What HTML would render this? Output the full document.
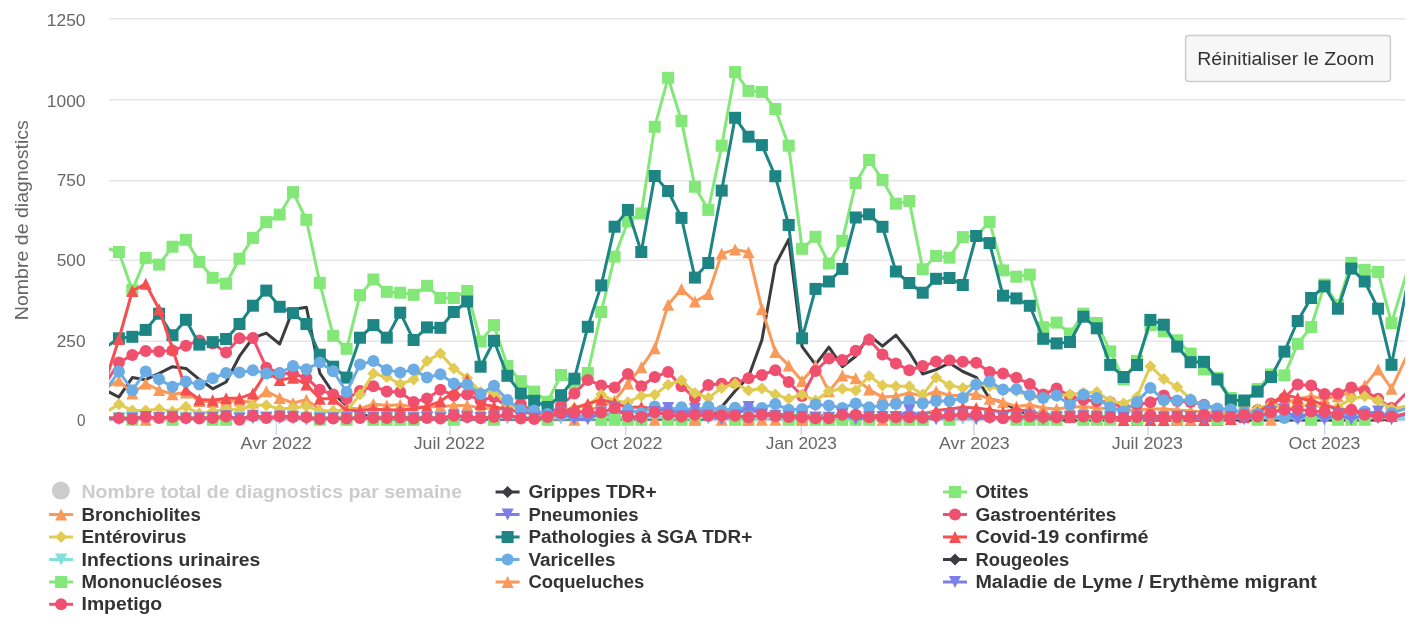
<!DOCTYPE html>
<html><head><meta charset="utf-8"><title>Chart</title><style>html,body{margin:0;padding:0;background:#fff}</style></head><body>
<svg width="1427" height="630" viewBox="0 0 1427 630" style="will-change:transform;display:block;font-family:'Liberation Sans',sans-serif">
<rect width="1427" height="630" fill="#fff"/>
<defs><clipPath id="pc"><rect x="109" y="0" width="1296" height="440"/></clipPath></defs>
<path d="M109 18.75H1405" stroke="#e6e6e6" stroke-width="1.5" fill="none"/>
<path d="M109 99.75H1405" stroke="#e6e6e6" stroke-width="1.5" fill="none"/>
<path d="M109 180.75H1405" stroke="#e6e6e6" stroke-width="1.5" fill="none"/>
<path d="M109 260.25H1405" stroke="#e6e6e6" stroke-width="1.5" fill="none"/>
<path d="M109 341.25H1405" stroke="#e6e6e6" stroke-width="1.5" fill="none"/>
<path d="M109 420.75H1405" stroke="#ccd6eb" stroke-width="1.5" fill="none"/>
<path d="M276.4 421V435" stroke="#ccd6eb" stroke-width="1.5" fill="none"/>
<path d="M450 421V435" stroke="#ccd6eb" stroke-width="1.5" fill="none"/>
<path d="M625.7 421V435" stroke="#ccd6eb" stroke-width="1.5" fill="none"/>
<path d="M801.3 421V435" stroke="#ccd6eb" stroke-width="1.5" fill="none"/>
<path d="M973.8 421V435" stroke="#ccd6eb" stroke-width="1.5" fill="none"/>
<path d="M1148 421V435" stroke="#ccd6eb" stroke-width="1.5" fill="none"/>
<path d="M1324.7 421V435" stroke="#ccd6eb" stroke-width="1.5" fill="none"/>
<g clip-path="url(#pc)">
<path d="M105.5 390.2L118.9 397.2L132.3 377.6L145.7 379.7L159.1 373.4L172.5 366.7L185.9 368.4L199.3 379.3L212.7 388.8L226.1 382.0L239.5 356.2L252.9 337.9L266.3 333.1L279.7 344.0L293.0 309.5L306.4 307.2L319.8 373.0L333.2 393.0L346.6 406.0L360.0 414.0L373.4 417.0L386.8 419.0L400.2 419.0L413.6 419.0L427.0 419.0L440.4 419.0L453.8 419.0L467.2 419.0L480.6 419.0L494.0 419.0L507.4 419.0L520.8 419.0L534.2 419.0L547.6 419.0L561.0 419.0L574.4 419.0L587.8 419.0L601.2 419.0L614.6 419.0L627.9 419.0L641.3 419.0L654.7 419.0L668.1 419.0L681.5 419.0L694.9 419.0L708.3 419.0L721.7 407.0L735.1 391.0L748.5 377.0L761.9 340.0L775.3 265.0L788.7 239.4L802.1 346.7L815.5 364.6L828.9 347.1L842.3 366.7L855.7 356.2L869.1 335.1L882.5 346.1L895.9 335.1L909.3 352.0L922.7 374.0L936.1 369.6L949.5 363.0L962.8 371.5L976.2 377.3L989.6 398.8L1003.0 402.2L1016.4 409.8L1029.8 415.0L1043.2 418.0L1056.6 420.0L1070.0 420.0L1083.4 420.0L1096.8 420.0L1110.2 420.0L1123.6 420.0L1137.0 420.0L1150.4 420.0L1163.8 420.0L1177.2 420.0L1190.6 420.0L1204.0 420.0L1217.4 420.0L1230.8 420.0L1244.2 420.0L1257.6 420.0L1271.0 420.0L1284.4 420.0L1297.7 420.0L1311.1 420.0L1324.5 420.0L1337.9 420.0L1351.3 420.0L1364.7 420.0L1378.1 420.0L1391.5 419.0L1404.9 414.0L1418.3 409.0" fill="none" stroke="#3b3b40" stroke-width="3" stroke-linejoin="round" stroke-linecap="round"/>
<path d="M105.5 247.7L118.9 252.0L132.3 290.2L145.7 257.9L159.1 264.6L172.5 246.7L185.9 239.8L199.3 261.9L212.7 277.8L226.1 283.7L239.5 258.7L252.9 237.9L266.3 222.1L279.7 214.6L293.0 192.1L306.4 219.8L319.8 282.9L333.2 335.8L346.6 348.8L360.0 295.1L373.4 279.5L386.8 291.9L400.2 292.7L413.6 294.8L427.0 285.8L440.4 298.0L453.8 298.0L467.2 291.0L480.6 341.5L494.0 325.1L507.4 366.0L520.8 381.2L534.2 391.7L547.6 401.7L561.0 375.0L574.4 383.5L587.8 373.0L601.2 312.0L614.6 256.6L627.9 221.5L641.3 213.5L654.7 126.8L668.1 77.8L681.5 120.9L694.9 186.8L708.3 209.9L721.7 145.7L735.1 72.0L748.5 90.9L761.9 91.9L775.3 109.0L788.7 145.7L802.1 248.8L815.5 236.8L828.9 263.5L842.3 240.8L855.7 183.0L869.1 160.0L882.5 179.9L895.9 203.7L909.3 201.0L922.7 269.3L936.1 256.0L949.5 257.7L962.8 237.1L976.2 236.0L989.6 222.0L1003.0 270.4L1016.4 276.7L1029.8 274.6L1043.2 327.2L1056.6 322.6L1070.0 333.5L1083.4 313.6L1096.8 323.0L1110.2 351.4L1123.6 379.5L1137.0 360.9L1150.4 325.1L1163.8 331.4L1177.2 340.3L1190.6 353.5L1204.0 369.5L1217.4 377.8L1230.8 398.0L1244.2 402.7L1257.6 389.0L1271.0 374.4L1284.4 375.3L1297.7 343.9L1311.1 327.1L1324.5 284.5L1337.9 305.0L1351.3 262.8L1364.7 269.8L1378.1 272.0L1391.5 323.1L1404.9 279.0L1418.3 234.9" fill="none" stroke="#83e878" stroke-width="3" stroke-linejoin="round" stroke-linecap="round"/><rect x="112.9" y="246.0" width="12" height="12" fill="#83e878"/><rect x="126.3" y="284.2" width="12" height="12" fill="#83e878"/><rect x="139.7" y="251.9" width="12" height="12" fill="#83e878"/><rect x="153.1" y="258.6" width="12" height="12" fill="#83e878"/><rect x="166.5" y="240.7" width="12" height="12" fill="#83e878"/><rect x="179.9" y="233.8" width="12" height="12" fill="#83e878"/><rect x="193.3" y="255.9" width="12" height="12" fill="#83e878"/><rect x="206.7" y="271.8" width="12" height="12" fill="#83e878"/><rect x="220.1" y="277.7" width="12" height="12" fill="#83e878"/><rect x="233.5" y="252.7" width="12" height="12" fill="#83e878"/><rect x="246.9" y="231.9" width="12" height="12" fill="#83e878"/><rect x="260.3" y="216.1" width="12" height="12" fill="#83e878"/><rect x="273.7" y="208.6" width="12" height="12" fill="#83e878"/><rect x="287.0" y="186.1" width="12" height="12" fill="#83e878"/><rect x="300.4" y="213.8" width="12" height="12" fill="#83e878"/><rect x="313.8" y="276.9" width="12" height="12" fill="#83e878"/><rect x="327.2" y="329.8" width="12" height="12" fill="#83e878"/><rect x="340.6" y="342.8" width="12" height="12" fill="#83e878"/><rect x="354.0" y="289.1" width="12" height="12" fill="#83e878"/><rect x="367.4" y="273.5" width="12" height="12" fill="#83e878"/><rect x="380.8" y="285.9" width="12" height="12" fill="#83e878"/><rect x="394.2" y="286.7" width="12" height="12" fill="#83e878"/><rect x="407.6" y="288.8" width="12" height="12" fill="#83e878"/><rect x="421.0" y="279.8" width="12" height="12" fill="#83e878"/><rect x="434.4" y="292.0" width="12" height="12" fill="#83e878"/><rect x="447.8" y="292.0" width="12" height="12" fill="#83e878"/><rect x="461.2" y="285.0" width="12" height="12" fill="#83e878"/><rect x="474.6" y="335.5" width="12" height="12" fill="#83e878"/><rect x="488.0" y="319.1" width="12" height="12" fill="#83e878"/><rect x="501.4" y="360.0" width="12" height="12" fill="#83e878"/><rect x="514.8" y="375.2" width="12" height="12" fill="#83e878"/><rect x="528.2" y="385.7" width="12" height="12" fill="#83e878"/><rect x="541.6" y="395.7" width="12" height="12" fill="#83e878"/><rect x="555.0" y="369.0" width="12" height="12" fill="#83e878"/><rect x="568.4" y="377.5" width="12" height="12" fill="#83e878"/><rect x="581.8" y="367.0" width="12" height="12" fill="#83e878"/><rect x="595.2" y="306.0" width="12" height="12" fill="#83e878"/><rect x="608.6" y="250.6" width="12" height="12" fill="#83e878"/><rect x="621.9" y="215.5" width="12" height="12" fill="#83e878"/><rect x="635.3" y="207.5" width="12" height="12" fill="#83e878"/><rect x="648.7" y="120.8" width="12" height="12" fill="#83e878"/><rect x="662.1" y="71.8" width="12" height="12" fill="#83e878"/><rect x="675.5" y="114.9" width="12" height="12" fill="#83e878"/><rect x="688.9" y="180.8" width="12" height="12" fill="#83e878"/><rect x="702.3" y="203.9" width="12" height="12" fill="#83e878"/><rect x="715.7" y="139.7" width="12" height="12" fill="#83e878"/><rect x="729.1" y="66.0" width="12" height="12" fill="#83e878"/><rect x="742.5" y="84.9" width="12" height="12" fill="#83e878"/><rect x="755.9" y="85.9" width="12" height="12" fill="#83e878"/><rect x="769.3" y="103.0" width="12" height="12" fill="#83e878"/><rect x="782.7" y="139.7" width="12" height="12" fill="#83e878"/><rect x="796.1" y="242.8" width="12" height="12" fill="#83e878"/><rect x="809.5" y="230.8" width="12" height="12" fill="#83e878"/><rect x="822.9" y="257.5" width="12" height="12" fill="#83e878"/><rect x="836.3" y="234.8" width="12" height="12" fill="#83e878"/><rect x="849.7" y="177.0" width="12" height="12" fill="#83e878"/><rect x="863.1" y="154.0" width="12" height="12" fill="#83e878"/><rect x="876.5" y="173.9" width="12" height="12" fill="#83e878"/><rect x="889.9" y="197.7" width="12" height="12" fill="#83e878"/><rect x="903.3" y="195.0" width="12" height="12" fill="#83e878"/><rect x="916.7" y="263.3" width="12" height="12" fill="#83e878"/><rect x="930.1" y="250.0" width="12" height="12" fill="#83e878"/><rect x="943.5" y="251.7" width="12" height="12" fill="#83e878"/><rect x="956.8" y="231.1" width="12" height="12" fill="#83e878"/><rect x="970.2" y="230.0" width="12" height="12" fill="#83e878"/><rect x="983.6" y="216.0" width="12" height="12" fill="#83e878"/><rect x="997.0" y="264.4" width="12" height="12" fill="#83e878"/><rect x="1010.4" y="270.7" width="12" height="12" fill="#83e878"/><rect x="1023.8" y="268.6" width="12" height="12" fill="#83e878"/><rect x="1037.2" y="321.2" width="12" height="12" fill="#83e878"/><rect x="1050.6" y="316.6" width="12" height="12" fill="#83e878"/><rect x="1064.0" y="327.5" width="12" height="12" fill="#83e878"/><rect x="1077.4" y="307.6" width="12" height="12" fill="#83e878"/><rect x="1090.8" y="317.0" width="12" height="12" fill="#83e878"/><rect x="1104.2" y="345.4" width="12" height="12" fill="#83e878"/><rect x="1117.6" y="373.5" width="12" height="12" fill="#83e878"/><rect x="1131.0" y="354.9" width="12" height="12" fill="#83e878"/><rect x="1144.4" y="319.1" width="12" height="12" fill="#83e878"/><rect x="1157.8" y="325.4" width="12" height="12" fill="#83e878"/><rect x="1171.2" y="334.3" width="12" height="12" fill="#83e878"/><rect x="1184.6" y="347.5" width="12" height="12" fill="#83e878"/><rect x="1198.0" y="363.5" width="12" height="12" fill="#83e878"/><rect x="1211.4" y="371.8" width="12" height="12" fill="#83e878"/><rect x="1224.8" y="392.0" width="12" height="12" fill="#83e878"/><rect x="1238.2" y="396.7" width="12" height="12" fill="#83e878"/><rect x="1251.6" y="383.0" width="12" height="12" fill="#83e878"/><rect x="1265.0" y="368.4" width="12" height="12" fill="#83e878"/><rect x="1278.4" y="369.3" width="12" height="12" fill="#83e878"/><rect x="1291.7" y="337.9" width="12" height="12" fill="#83e878"/><rect x="1305.1" y="321.1" width="12" height="12" fill="#83e878"/><rect x="1318.5" y="278.5" width="12" height="12" fill="#83e878"/><rect x="1331.9" y="299.0" width="12" height="12" fill="#83e878"/><rect x="1345.3" y="256.8" width="12" height="12" fill="#83e878"/><rect x="1358.7" y="263.8" width="12" height="12" fill="#83e878"/><rect x="1372.1" y="266.0" width="12" height="12" fill="#83e878"/><rect x="1385.5" y="317.1" width="12" height="12" fill="#83e878"/>
<path d="M105.5 388.0L118.9 380.5L132.3 393.4L145.7 383.6L159.1 390.0L172.5 394.3L185.9 392.5L199.3 401.0L212.7 402.0L226.1 401.5L239.5 400.5L252.9 402.5L266.3 391.2L279.7 398.0L293.0 403.0L306.4 399.7L319.8 409.5L333.2 413.0L346.6 408.0L360.0 409.0L373.4 403.9L386.8 405.6L400.2 404.7L413.6 407.0L427.0 407.0L440.4 406.4L453.8 405.6L467.2 405.6L480.6 408.0L494.0 408.0L507.4 410.0L520.8 412.0L534.2 414.0L547.6 415.0L561.0 414.0L574.4 413.0L587.8 410.0L601.2 407.0L614.6 400.5L627.9 383.6L641.3 367.3L654.7 348.2L668.1 304.7L681.5 289.1L694.9 301.5L708.3 294.1L721.7 253.6L735.1 249.4L748.5 252.2L761.9 308.9L775.3 352.0L788.7 365.4L802.1 381.0L815.5 365.4L828.9 391.2L842.3 375.5L855.7 378.3L869.1 389.6L882.5 397.1L895.9 396.3L909.3 392.9L922.7 396.3L936.1 391.2L949.5 395.5L962.8 395.5L976.2 394.1L989.6 398.8L1003.0 402.2L1016.4 406.4L1029.8 404.7L1043.2 408.0L1056.6 409.0L1070.0 407.2L1083.4 406.4L1096.8 408.0L1110.2 409.0L1123.6 410.0L1137.0 410.0L1150.4 409.0L1163.8 409.0L1177.2 410.0L1190.6 411.0L1204.0 412.0L1217.4 413.0L1230.8 414.0L1244.2 414.0L1257.6 412.0L1271.0 408.0L1284.4 403.0L1297.7 399.0L1311.1 396.3L1324.5 398.8L1337.9 396.3L1351.3 392.0L1364.7 385.4L1378.1 369.4L1391.5 388.7L1404.9 360.0L1418.3 331.3" fill="none" stroke="#f9995a" stroke-width="3" stroke-linejoin="round" stroke-linecap="round"/><path d="M118.9 374.5L124.9 386.5L112.9 386.5Z" fill="#f9995a"/><path d="M132.3 387.4L138.3 399.4L126.3 399.4Z" fill="#f9995a"/><path d="M145.7 377.6L151.7 389.6L139.7 389.6Z" fill="#f9995a"/><path d="M159.1 384.0L165.1 396.0L153.1 396.0Z" fill="#f9995a"/><path d="M172.5 388.3L178.5 400.3L166.5 400.3Z" fill="#f9995a"/><path d="M185.9 386.5L191.9 398.5L179.9 398.5Z" fill="#f9995a"/><path d="M199.3 395.0L205.3 407.0L193.3 407.0Z" fill="#f9995a"/><path d="M212.7 396.0L218.7 408.0L206.7 408.0Z" fill="#f9995a"/><path d="M226.1 395.5L232.1 407.5L220.1 407.5Z" fill="#f9995a"/><path d="M239.5 394.5L245.5 406.5L233.5 406.5Z" fill="#f9995a"/><path d="M252.9 396.5L258.9 408.5L246.9 408.5Z" fill="#f9995a"/><path d="M266.3 385.2L272.3 397.2L260.3 397.2Z" fill="#f9995a"/><path d="M279.7 392.0L285.7 404.0L273.7 404.0Z" fill="#f9995a"/><path d="M293.0 397.0L299.0 409.0L287.0 409.0Z" fill="#f9995a"/><path d="M306.4 393.7L312.4 405.7L300.4 405.7Z" fill="#f9995a"/><path d="M319.8 403.5L325.8 415.5L313.8 415.5Z" fill="#f9995a"/><path d="M333.2 407.0L339.2 419.0L327.2 419.0Z" fill="#f9995a"/><path d="M346.6 402.0L352.6 414.0L340.6 414.0Z" fill="#f9995a"/><path d="M360.0 403.0L366.0 415.0L354.0 415.0Z" fill="#f9995a"/><path d="M373.4 397.9L379.4 409.9L367.4 409.9Z" fill="#f9995a"/><path d="M386.8 399.6L392.8 411.6L380.8 411.6Z" fill="#f9995a"/><path d="M400.2 398.7L406.2 410.7L394.2 410.7Z" fill="#f9995a"/><path d="M413.6 401.0L419.6 413.0L407.6 413.0Z" fill="#f9995a"/><path d="M427.0 401.0L433.0 413.0L421.0 413.0Z" fill="#f9995a"/><path d="M440.4 400.4L446.4 412.4L434.4 412.4Z" fill="#f9995a"/><path d="M453.8 399.6L459.8 411.6L447.8 411.6Z" fill="#f9995a"/><path d="M467.2 399.6L473.2 411.6L461.2 411.6Z" fill="#f9995a"/><path d="M480.6 402.0L486.6 414.0L474.6 414.0Z" fill="#f9995a"/><path d="M494.0 402.0L500.0 414.0L488.0 414.0Z" fill="#f9995a"/><path d="M507.4 404.0L513.4 416.0L501.4 416.0Z" fill="#f9995a"/><path d="M520.8 406.0L526.8 418.0L514.8 418.0Z" fill="#f9995a"/><path d="M534.2 408.0L540.2 420.0L528.2 420.0Z" fill="#f9995a"/><path d="M547.6 409.0L553.6 421.0L541.6 421.0Z" fill="#f9995a"/><path d="M561.0 408.0L567.0 420.0L555.0 420.0Z" fill="#f9995a"/><path d="M574.4 407.0L580.4 419.0L568.4 419.0Z" fill="#f9995a"/><path d="M587.8 404.0L593.8 416.0L581.8 416.0Z" fill="#f9995a"/><path d="M601.2 401.0L607.2 413.0L595.2 413.0Z" fill="#f9995a"/><path d="M614.6 394.5L620.6 406.5L608.6 406.5Z" fill="#f9995a"/><path d="M627.9 377.6L633.9 389.6L621.9 389.6Z" fill="#f9995a"/><path d="M641.3 361.3L647.3 373.3L635.3 373.3Z" fill="#f9995a"/><path d="M654.7 342.2L660.7 354.2L648.7 354.2Z" fill="#f9995a"/><path d="M668.1 298.7L674.1 310.7L662.1 310.7Z" fill="#f9995a"/><path d="M681.5 283.1L687.5 295.1L675.5 295.1Z" fill="#f9995a"/><path d="M694.9 295.5L700.9 307.5L688.9 307.5Z" fill="#f9995a"/><path d="M708.3 288.1L714.3 300.1L702.3 300.1Z" fill="#f9995a"/><path d="M721.7 247.6L727.7 259.6L715.7 259.6Z" fill="#f9995a"/><path d="M735.1 243.4L741.1 255.4L729.1 255.4Z" fill="#f9995a"/><path d="M748.5 246.2L754.5 258.2L742.5 258.2Z" fill="#f9995a"/><path d="M761.9 302.9L767.9 314.9L755.9 314.9Z" fill="#f9995a"/><path d="M775.3 346.0L781.3 358.0L769.3 358.0Z" fill="#f9995a"/><path d="M788.7 359.4L794.7 371.4L782.7 371.4Z" fill="#f9995a"/><path d="M802.1 375.0L808.1 387.0L796.1 387.0Z" fill="#f9995a"/><path d="M815.5 359.4L821.5 371.4L809.5 371.4Z" fill="#f9995a"/><path d="M828.9 385.2L834.9 397.2L822.9 397.2Z" fill="#f9995a"/><path d="M842.3 369.5L848.3 381.5L836.3 381.5Z" fill="#f9995a"/><path d="M855.7 372.3L861.7 384.3L849.7 384.3Z" fill="#f9995a"/><path d="M869.1 383.6L875.1 395.6L863.1 395.6Z" fill="#f9995a"/><path d="M882.5 391.1L888.5 403.1L876.5 403.1Z" fill="#f9995a"/><path d="M895.9 390.3L901.9 402.3L889.9 402.3Z" fill="#f9995a"/><path d="M909.3 386.9L915.3 398.9L903.3 398.9Z" fill="#f9995a"/><path d="M922.7 390.3L928.7 402.3L916.7 402.3Z" fill="#f9995a"/><path d="M936.1 385.2L942.1 397.2L930.1 397.2Z" fill="#f9995a"/><path d="M949.5 389.5L955.5 401.5L943.5 401.5Z" fill="#f9995a"/><path d="M962.8 389.5L968.8 401.5L956.8 401.5Z" fill="#f9995a"/><path d="M976.2 388.1L982.2 400.1L970.2 400.1Z" fill="#f9995a"/><path d="M989.6 392.8L995.6 404.8L983.6 404.8Z" fill="#f9995a"/><path d="M1003.0 396.2L1009.0 408.2L997.0 408.2Z" fill="#f9995a"/><path d="M1016.4 400.4L1022.4 412.4L1010.4 412.4Z" fill="#f9995a"/><path d="M1029.8 398.7L1035.8 410.7L1023.8 410.7Z" fill="#f9995a"/><path d="M1043.2 402.0L1049.2 414.0L1037.2 414.0Z" fill="#f9995a"/><path d="M1056.6 403.0L1062.6 415.0L1050.6 415.0Z" fill="#f9995a"/><path d="M1070.0 401.2L1076.0 413.2L1064.0 413.2Z" fill="#f9995a"/><path d="M1083.4 400.4L1089.4 412.4L1077.4 412.4Z" fill="#f9995a"/><path d="M1096.8 402.0L1102.8 414.0L1090.8 414.0Z" fill="#f9995a"/><path d="M1110.2 403.0L1116.2 415.0L1104.2 415.0Z" fill="#f9995a"/><path d="M1123.6 404.0L1129.6 416.0L1117.6 416.0Z" fill="#f9995a"/><path d="M1137.0 404.0L1143.0 416.0L1131.0 416.0Z" fill="#f9995a"/><path d="M1150.4 403.0L1156.4 415.0L1144.4 415.0Z" fill="#f9995a"/><path d="M1163.8 403.0L1169.8 415.0L1157.8 415.0Z" fill="#f9995a"/><path d="M1177.2 404.0L1183.2 416.0L1171.2 416.0Z" fill="#f9995a"/><path d="M1190.6 405.0L1196.6 417.0L1184.6 417.0Z" fill="#f9995a"/><path d="M1204.0 406.0L1210.0 418.0L1198.0 418.0Z" fill="#f9995a"/><path d="M1217.4 407.0L1223.4 419.0L1211.4 419.0Z" fill="#f9995a"/><path d="M1230.8 408.0L1236.8 420.0L1224.8 420.0Z" fill="#f9995a"/><path d="M1244.2 408.0L1250.2 420.0L1238.2 420.0Z" fill="#f9995a"/><path d="M1257.6 406.0L1263.6 418.0L1251.6 418.0Z" fill="#f9995a"/><path d="M1271.0 402.0L1277.0 414.0L1265.0 414.0Z" fill="#f9995a"/><path d="M1284.4 397.0L1290.4 409.0L1278.4 409.0Z" fill="#f9995a"/><path d="M1297.7 393.0L1303.7 405.0L1291.7 405.0Z" fill="#f9995a"/><path d="M1311.1 390.3L1317.1 402.3L1305.1 402.3Z" fill="#f9995a"/><path d="M1324.5 392.8L1330.5 404.8L1318.5 404.8Z" fill="#f9995a"/><path d="M1337.9 390.3L1343.9 402.3L1331.9 402.3Z" fill="#f9995a"/><path d="M1351.3 386.0L1357.3 398.0L1345.3 398.0Z" fill="#f9995a"/><path d="M1364.7 379.4L1370.7 391.4L1358.7 391.4Z" fill="#f9995a"/><path d="M1378.1 363.4L1384.1 375.4L1372.1 375.4Z" fill="#f9995a"/><path d="M1391.5 382.7L1397.5 394.7L1385.5 394.7Z" fill="#f9995a"/>
<path d="M105.5 418.3L118.9 418.3L132.3 418.3L145.7 418.3L159.1 418.3L172.5 418.3L185.9 418.3L199.3 418.3L212.7 418.3L226.1 418.3L239.5 418.3L252.9 418.3L266.3 418.3L279.7 418.3L293.0 418.3L306.4 418.3L319.8 418.3L333.2 418.3L346.6 418.3L360.0 418.3L373.4 418.3L386.8 418.3L400.2 418.3L413.6 418.3L427.0 418.3L440.4 418.3L453.8 418.3L467.2 418.3L480.6 418.3L494.0 418.3L507.4 418.3L520.8 418.3L534.2 418.3L547.6 418.3L561.0 418.3L574.4 418.3L587.8 418.3L601.2 418.3L614.6 418.3L627.9 418.3L641.3 418.3L654.7 418.3L668.1 418.3L681.5 418.3L694.9 418.3L708.3 418.3L721.7 418.3L735.1 418.3L748.5 418.3L761.9 418.3L775.3 418.3L788.7 418.3L802.1 418.3L815.5 418.3L828.9 418.3L842.3 418.3L855.7 418.3L869.1 418.3L882.5 418.3L895.9 418.3L909.3 418.3L922.7 418.3L936.1 418.3L949.5 418.3L962.8 418.3L976.2 418.3L989.6 418.3L1003.0 418.3L1016.4 418.3L1029.8 418.3L1043.2 418.3L1056.6 418.3L1070.0 418.3L1083.4 418.3L1096.8 418.3L1110.2 418.3L1123.6 418.3L1137.0 418.3L1150.4 418.3L1163.8 418.3L1177.2 418.3L1190.6 418.3L1204.0 418.3L1217.4 418.3L1230.8 418.3L1244.2 418.3L1257.6 418.3L1271.0 418.3L1284.4 418.3L1297.7 418.3L1311.1 418.3L1324.5 418.3L1337.9 418.3L1351.3 418.3L1364.7 418.3L1378.1 418.3L1391.5 418.3L1404.9 418.3L1418.3 418.3" fill="none" stroke="#7b7fe8" stroke-width="3" stroke-linejoin="round" stroke-linecap="round"/><path d="M112.9 412.3L124.9 412.3L118.9 424.3Z" fill="#7b7fe8"/><path d="M126.3 412.3L138.3 412.3L132.3 424.3Z" fill="#7b7fe8"/><path d="M139.7 412.3L151.7 412.3L145.7 424.3Z" fill="#7b7fe8"/><path d="M153.1 412.3L165.1 412.3L159.1 424.3Z" fill="#7b7fe8"/><path d="M166.5 412.3L178.5 412.3L172.5 424.3Z" fill="#7b7fe8"/><path d="M179.9 412.3L191.9 412.3L185.9 424.3Z" fill="#7b7fe8"/><path d="M193.3 412.3L205.3 412.3L199.3 424.3Z" fill="#7b7fe8"/><path d="M206.7 412.3L218.7 412.3L212.7 424.3Z" fill="#7b7fe8"/><path d="M220.1 412.3L232.1 412.3L226.1 424.3Z" fill="#7b7fe8"/><path d="M233.5 412.3L245.5 412.3L239.5 424.3Z" fill="#7b7fe8"/><path d="M246.9 412.3L258.9 412.3L252.9 424.3Z" fill="#7b7fe8"/><path d="M260.3 412.3L272.3 412.3L266.3 424.3Z" fill="#7b7fe8"/><path d="M273.7 412.3L285.7 412.3L279.7 424.3Z" fill="#7b7fe8"/><path d="M287.0 412.3L299.0 412.3L293.0 424.3Z" fill="#7b7fe8"/><path d="M300.4 412.3L312.4 412.3L306.4 424.3Z" fill="#7b7fe8"/><path d="M313.8 412.3L325.8 412.3L319.8 424.3Z" fill="#7b7fe8"/><path d="M327.2 412.3L339.2 412.3L333.2 424.3Z" fill="#7b7fe8"/><path d="M340.6 412.3L352.6 412.3L346.6 424.3Z" fill="#7b7fe8"/><path d="M354.0 412.3L366.0 412.3L360.0 424.3Z" fill="#7b7fe8"/><path d="M367.4 412.3L379.4 412.3L373.4 424.3Z" fill="#7b7fe8"/><path d="M380.8 412.3L392.8 412.3L386.8 424.3Z" fill="#7b7fe8"/><path d="M394.2 412.3L406.2 412.3L400.2 424.3Z" fill="#7b7fe8"/><path d="M407.6 412.3L419.6 412.3L413.6 424.3Z" fill="#7b7fe8"/><path d="M421.0 412.3L433.0 412.3L427.0 424.3Z" fill="#7b7fe8"/><path d="M434.4 412.3L446.4 412.3L440.4 424.3Z" fill="#7b7fe8"/><path d="M447.8 412.3L459.8 412.3L453.8 424.3Z" fill="#7b7fe8"/><path d="M461.2 412.3L473.2 412.3L467.2 424.3Z" fill="#7b7fe8"/><path d="M474.6 412.3L486.6 412.3L480.6 424.3Z" fill="#7b7fe8"/><path d="M488.0 412.3L500.0 412.3L494.0 424.3Z" fill="#7b7fe8"/><path d="M501.4 412.3L513.4 412.3L507.4 424.3Z" fill="#7b7fe8"/><path d="M514.8 412.3L526.8 412.3L520.8 424.3Z" fill="#7b7fe8"/><path d="M528.2 412.3L540.2 412.3L534.2 424.3Z" fill="#7b7fe8"/><path d="M541.6 412.3L553.6 412.3L547.6 424.3Z" fill="#7b7fe8"/><path d="M555.0 412.3L567.0 412.3L561.0 424.3Z" fill="#7b7fe8"/><path d="M568.4 412.3L580.4 412.3L574.4 424.3Z" fill="#7b7fe8"/><path d="M581.8 412.3L593.8 412.3L587.8 424.3Z" fill="#7b7fe8"/><path d="M595.2 412.3L607.2 412.3L601.2 424.3Z" fill="#7b7fe8"/><path d="M608.6 412.3L620.6 412.3L614.6 424.3Z" fill="#7b7fe8"/><path d="M621.9 412.3L633.9 412.3L627.9 424.3Z" fill="#7b7fe8"/><path d="M635.3 412.3L647.3 412.3L641.3 424.3Z" fill="#7b7fe8"/><path d="M648.7 412.3L660.7 412.3L654.7 424.3Z" fill="#7b7fe8"/><path d="M662.1 412.3L674.1 412.3L668.1 424.3Z" fill="#7b7fe8"/><path d="M675.5 412.3L687.5 412.3L681.5 424.3Z" fill="#7b7fe8"/><path d="M688.9 412.3L700.9 412.3L694.9 424.3Z" fill="#7b7fe8"/><path d="M702.3 412.3L714.3 412.3L708.3 424.3Z" fill="#7b7fe8"/><path d="M715.7 412.3L727.7 412.3L721.7 424.3Z" fill="#7b7fe8"/><path d="M729.1 412.3L741.1 412.3L735.1 424.3Z" fill="#7b7fe8"/><path d="M742.5 412.3L754.5 412.3L748.5 424.3Z" fill="#7b7fe8"/><path d="M755.9 412.3L767.9 412.3L761.9 424.3Z" fill="#7b7fe8"/><path d="M769.3 412.3L781.3 412.3L775.3 424.3Z" fill="#7b7fe8"/><path d="M782.7 412.3L794.7 412.3L788.7 424.3Z" fill="#7b7fe8"/><path d="M796.1 412.3L808.1 412.3L802.1 424.3Z" fill="#7b7fe8"/><path d="M809.5 412.3L821.5 412.3L815.5 424.3Z" fill="#7b7fe8"/><path d="M822.9 412.3L834.9 412.3L828.9 424.3Z" fill="#7b7fe8"/><path d="M836.3 412.3L848.3 412.3L842.3 424.3Z" fill="#7b7fe8"/><path d="M849.7 412.3L861.7 412.3L855.7 424.3Z" fill="#7b7fe8"/><path d="M863.1 412.3L875.1 412.3L869.1 424.3Z" fill="#7b7fe8"/><path d="M876.5 412.3L888.5 412.3L882.5 424.3Z" fill="#7b7fe8"/><path d="M889.9 412.3L901.9 412.3L895.9 424.3Z" fill="#7b7fe8"/><path d="M903.3 412.3L915.3 412.3L909.3 424.3Z" fill="#7b7fe8"/><path d="M916.7 412.3L928.7 412.3L922.7 424.3Z" fill="#7b7fe8"/><path d="M930.1 412.3L942.1 412.3L936.1 424.3Z" fill="#7b7fe8"/><path d="M943.5 412.3L955.5 412.3L949.5 424.3Z" fill="#7b7fe8"/><path d="M956.8 412.3L968.8 412.3L962.8 424.3Z" fill="#7b7fe8"/><path d="M970.2 412.3L982.2 412.3L976.2 424.3Z" fill="#7b7fe8"/><path d="M983.6 412.3L995.6 412.3L989.6 424.3Z" fill="#7b7fe8"/><path d="M997.0 412.3L1009.0 412.3L1003.0 424.3Z" fill="#7b7fe8"/><path d="M1010.4 412.3L1022.4 412.3L1016.4 424.3Z" fill="#7b7fe8"/><path d="M1023.8 412.3L1035.8 412.3L1029.8 424.3Z" fill="#7b7fe8"/><path d="M1037.2 412.3L1049.2 412.3L1043.2 424.3Z" fill="#7b7fe8"/><path d="M1050.6 412.3L1062.6 412.3L1056.6 424.3Z" fill="#7b7fe8"/><path d="M1064.0 412.3L1076.0 412.3L1070.0 424.3Z" fill="#7b7fe8"/><path d="M1077.4 412.3L1089.4 412.3L1083.4 424.3Z" fill="#7b7fe8"/><path d="M1090.8 412.3L1102.8 412.3L1096.8 424.3Z" fill="#7b7fe8"/><path d="M1104.2 412.3L1116.2 412.3L1110.2 424.3Z" fill="#7b7fe8"/><path d="M1117.6 412.3L1129.6 412.3L1123.6 424.3Z" fill="#7b7fe8"/><path d="M1131.0 412.3L1143.0 412.3L1137.0 424.3Z" fill="#7b7fe8"/><path d="M1144.4 412.3L1156.4 412.3L1150.4 424.3Z" fill="#7b7fe8"/><path d="M1157.8 412.3L1169.8 412.3L1163.8 424.3Z" fill="#7b7fe8"/><path d="M1171.2 412.3L1183.2 412.3L1177.2 424.3Z" fill="#7b7fe8"/><path d="M1184.6 412.3L1196.6 412.3L1190.6 424.3Z" fill="#7b7fe8"/><path d="M1198.0 412.3L1210.0 412.3L1204.0 424.3Z" fill="#7b7fe8"/><path d="M1211.4 412.3L1223.4 412.3L1217.4 424.3Z" fill="#7b7fe8"/><path d="M1224.8 412.3L1236.8 412.3L1230.8 424.3Z" fill="#7b7fe8"/><path d="M1238.2 412.3L1250.2 412.3L1244.2 424.3Z" fill="#7b7fe8"/><path d="M1251.6 412.3L1263.6 412.3L1257.6 424.3Z" fill="#7b7fe8"/><path d="M1265.0 412.3L1277.0 412.3L1271.0 424.3Z" fill="#7b7fe8"/><path d="M1278.4 412.3L1290.4 412.3L1284.4 424.3Z" fill="#7b7fe8"/><path d="M1291.7 412.3L1303.7 412.3L1297.7 424.3Z" fill="#7b7fe8"/><path d="M1305.1 412.3L1317.1 412.3L1311.1 424.3Z" fill="#7b7fe8"/><path d="M1318.5 412.3L1330.5 412.3L1324.5 424.3Z" fill="#7b7fe8"/><path d="M1331.9 412.3L1343.9 412.3L1337.9 424.3Z" fill="#7b7fe8"/><path d="M1345.3 412.3L1357.3 412.3L1351.3 424.3Z" fill="#7b7fe8"/><path d="M1358.7 412.3L1370.7 412.3L1364.7 424.3Z" fill="#7b7fe8"/><path d="M1372.1 412.3L1384.1 412.3L1378.1 424.3Z" fill="#7b7fe8"/><path d="M1385.5 412.3L1397.5 412.3L1391.5 424.3Z" fill="#7b7fe8"/>
<path d="M105.5 383.5L118.9 362.5L132.3 355.1L145.7 350.9L159.1 351.6L172.5 350.5L185.9 345.7L199.3 340.4L212.7 343.6L226.1 352.6L239.5 338.3L252.9 337.9L266.3 367.7L279.7 373.2L293.0 373.5L306.4 378.0L319.8 389.8L333.2 394.6L346.6 398.8L360.0 391.0L373.4 386.2L386.8 391.5L400.2 392.0L413.6 402.0L427.0 398.5L440.4 389.7L453.8 395.5L467.2 394.6L480.6 400.5L494.0 397.0L507.4 407.0L520.8 404.0L534.2 412.0L547.6 415.6L561.0 405.5L574.4 393.4L587.8 380.0L601.2 385.4L614.6 387.4L627.9 373.9L641.3 386.2L654.7 377.0L668.1 371.9L681.5 386.2L694.9 398.0L708.3 385.0L721.7 383.7L735.1 382.8L748.5 378.3L761.9 375.0L775.3 370.2L788.7 382.0L802.1 396.0L815.5 371.0L828.9 358.4L842.3 360.0L855.7 350.8L869.1 339.8L882.5 354.4L895.9 363.5L909.3 370.2L922.7 366.0L936.1 361.6L949.5 360.2L962.8 361.8L976.2 362.8L989.6 371.9L1003.0 373.6L1016.4 377.8L1029.8 384.1L1043.2 394.6L1056.6 388.4L1070.0 396.3L1083.4 399.7L1096.8 401.3L1110.2 402.2L1123.6 408.0L1137.0 404.7L1150.4 402.2L1163.8 395.5L1177.2 401.0L1190.6 402.0L1204.0 404.7L1217.4 409.0L1230.8 411.0L1244.2 412.0L1257.6 410.0L1271.0 403.5L1284.4 398.0L1297.7 384.5L1311.1 385.4L1324.5 394.1L1337.9 393.8L1351.3 387.4L1364.7 391.2L1378.1 398.8L1391.5 408.0L1404.9 394.6L1418.3 381.2" fill="none" stroke="#f0506f" stroke-width="3" stroke-linejoin="round" stroke-linecap="round"/><circle cx="118.9" cy="362.5" r="6" fill="#f0506f"/><circle cx="132.3" cy="355.1" r="6" fill="#f0506f"/><circle cx="145.7" cy="350.9" r="6" fill="#f0506f"/><circle cx="159.1" cy="351.6" r="6" fill="#f0506f"/><circle cx="172.5" cy="350.5" r="6" fill="#f0506f"/><circle cx="185.9" cy="345.7" r="6" fill="#f0506f"/><circle cx="199.3" cy="340.4" r="6" fill="#f0506f"/><circle cx="212.7" cy="343.6" r="6" fill="#f0506f"/><circle cx="226.1" cy="352.6" r="6" fill="#f0506f"/><circle cx="239.5" cy="338.3" r="6" fill="#f0506f"/><circle cx="252.9" cy="337.9" r="6" fill="#f0506f"/><circle cx="266.3" cy="367.7" r="6" fill="#f0506f"/><circle cx="279.7" cy="373.2" r="6" fill="#f0506f"/><circle cx="293.0" cy="373.5" r="6" fill="#f0506f"/><circle cx="306.4" cy="378.0" r="6" fill="#f0506f"/><circle cx="319.8" cy="389.8" r="6" fill="#f0506f"/><circle cx="333.2" cy="394.6" r="6" fill="#f0506f"/><circle cx="346.6" cy="398.8" r="6" fill="#f0506f"/><circle cx="360.0" cy="391.0" r="6" fill="#f0506f"/><circle cx="373.4" cy="386.2" r="6" fill="#f0506f"/><circle cx="386.8" cy="391.5" r="6" fill="#f0506f"/><circle cx="400.2" cy="392.0" r="6" fill="#f0506f"/><circle cx="413.6" cy="402.0" r="6" fill="#f0506f"/><circle cx="427.0" cy="398.5" r="6" fill="#f0506f"/><circle cx="440.4" cy="389.7" r="6" fill="#f0506f"/><circle cx="453.8" cy="395.5" r="6" fill="#f0506f"/><circle cx="467.2" cy="394.6" r="6" fill="#f0506f"/><circle cx="480.6" cy="400.5" r="6" fill="#f0506f"/><circle cx="494.0" cy="397.0" r="6" fill="#f0506f"/><circle cx="507.4" cy="407.0" r="6" fill="#f0506f"/><circle cx="520.8" cy="404.0" r="6" fill="#f0506f"/><circle cx="534.2" cy="412.0" r="6" fill="#f0506f"/><circle cx="547.6" cy="415.6" r="6" fill="#f0506f"/><circle cx="561.0" cy="405.5" r="6" fill="#f0506f"/><circle cx="574.4" cy="393.4" r="6" fill="#f0506f"/><circle cx="587.8" cy="380.0" r="6" fill="#f0506f"/><circle cx="601.2" cy="385.4" r="6" fill="#f0506f"/><circle cx="614.6" cy="387.4" r="6" fill="#f0506f"/><circle cx="627.9" cy="373.9" r="6" fill="#f0506f"/><circle cx="641.3" cy="386.2" r="6" fill="#f0506f"/><circle cx="654.7" cy="377.0" r="6" fill="#f0506f"/><circle cx="668.1" cy="371.9" r="6" fill="#f0506f"/><circle cx="681.5" cy="386.2" r="6" fill="#f0506f"/><circle cx="694.9" cy="398.0" r="6" fill="#f0506f"/><circle cx="708.3" cy="385.0" r="6" fill="#f0506f"/><circle cx="721.7" cy="383.7" r="6" fill="#f0506f"/><circle cx="735.1" cy="382.8" r="6" fill="#f0506f"/><circle cx="748.5" cy="378.3" r="6" fill="#f0506f"/><circle cx="761.9" cy="375.0" r="6" fill="#f0506f"/><circle cx="775.3" cy="370.2" r="6" fill="#f0506f"/><circle cx="788.7" cy="382.0" r="6" fill="#f0506f"/><circle cx="802.1" cy="396.0" r="6" fill="#f0506f"/><circle cx="815.5" cy="371.0" r="6" fill="#f0506f"/><circle cx="828.9" cy="358.4" r="6" fill="#f0506f"/><circle cx="842.3" cy="360.0" r="6" fill="#f0506f"/><circle cx="855.7" cy="350.8" r="6" fill="#f0506f"/><circle cx="869.1" cy="339.8" r="6" fill="#f0506f"/><circle cx="882.5" cy="354.4" r="6" fill="#f0506f"/><circle cx="895.9" cy="363.5" r="6" fill="#f0506f"/><circle cx="909.3" cy="370.2" r="6" fill="#f0506f"/><circle cx="922.7" cy="366.0" r="6" fill="#f0506f"/><circle cx="936.1" cy="361.6" r="6" fill="#f0506f"/><circle cx="949.5" cy="360.2" r="6" fill="#f0506f"/><circle cx="962.8" cy="361.8" r="6" fill="#f0506f"/><circle cx="976.2" cy="362.8" r="6" fill="#f0506f"/><circle cx="989.6" cy="371.9" r="6" fill="#f0506f"/><circle cx="1003.0" cy="373.6" r="6" fill="#f0506f"/><circle cx="1016.4" cy="377.8" r="6" fill="#f0506f"/><circle cx="1029.8" cy="384.1" r="6" fill="#f0506f"/><circle cx="1043.2" cy="394.6" r="6" fill="#f0506f"/><circle cx="1056.6" cy="388.4" r="6" fill="#f0506f"/><circle cx="1070.0" cy="396.3" r="6" fill="#f0506f"/><circle cx="1083.4" cy="399.7" r="6" fill="#f0506f"/><circle cx="1096.8" cy="401.3" r="6" fill="#f0506f"/><circle cx="1110.2" cy="402.2" r="6" fill="#f0506f"/><circle cx="1123.6" cy="408.0" r="6" fill="#f0506f"/><circle cx="1137.0" cy="404.7" r="6" fill="#f0506f"/><circle cx="1150.4" cy="402.2" r="6" fill="#f0506f"/><circle cx="1163.8" cy="395.5" r="6" fill="#f0506f"/><circle cx="1177.2" cy="401.0" r="6" fill="#f0506f"/><circle cx="1190.6" cy="402.0" r="6" fill="#f0506f"/><circle cx="1204.0" cy="404.7" r="6" fill="#f0506f"/><circle cx="1217.4" cy="409.0" r="6" fill="#f0506f"/><circle cx="1230.8" cy="411.0" r="6" fill="#f0506f"/><circle cx="1244.2" cy="412.0" r="6" fill="#f0506f"/><circle cx="1257.6" cy="410.0" r="6" fill="#f0506f"/><circle cx="1271.0" cy="403.5" r="6" fill="#f0506f"/><circle cx="1284.4" cy="398.0" r="6" fill="#f0506f"/><circle cx="1297.7" cy="384.5" r="6" fill="#f0506f"/><circle cx="1311.1" cy="385.4" r="6" fill="#f0506f"/><circle cx="1324.5" cy="394.1" r="6" fill="#f0506f"/><circle cx="1337.9" cy="393.8" r="6" fill="#f0506f"/><circle cx="1351.3" cy="387.4" r="6" fill="#f0506f"/><circle cx="1364.7" cy="391.2" r="6" fill="#f0506f"/><circle cx="1378.1" cy="398.8" r="6" fill="#f0506f"/><circle cx="1391.5" cy="408.0" r="6" fill="#f0506f"/>
<path d="M105.5 412.5L118.9 404.2L132.3 410.6L145.7 410.6L159.1 408.9L172.5 411.4L185.9 406.8L199.3 413.5L212.7 411.5L226.1 409.1L239.5 410.0L252.9 405.2L266.3 405.2L279.7 409.1L293.0 408.1L306.4 406.2L319.8 411.1L333.2 411.0L346.6 411.0L360.0 394.6L373.4 373.6L386.8 377.0L400.2 384.0L413.6 379.6L427.0 361.1L440.4 353.4L453.8 368.4L467.2 378.0L480.6 392.0L494.0 392.0L507.4 404.0L520.8 410.0L534.2 413.0L547.6 414.0L561.0 412.0L574.4 408.0L587.8 405.6L601.2 394.4L614.6 401.3L627.9 402.2L641.3 395.9L654.7 394.8L668.1 384.7L681.5 380.3L694.9 393.0L708.3 398.0L721.7 387.9L735.1 383.7L748.5 390.4L761.9 388.4L775.3 394.6L788.7 398.8L802.1 394.6L815.5 400.5L828.9 391.2L842.3 388.7L855.7 390.4L869.1 376.0L882.5 385.4L895.9 386.2L909.3 386.2L922.7 394.6L936.1 377.6L949.5 385.4L962.8 387.9L976.2 384.0L989.6 386.0L1003.0 390.5L1016.4 391.0L1029.8 396.0L1043.2 398.5L1056.6 396.0L1070.0 394.6L1083.4 393.0L1096.8 392.0L1110.2 401.0L1123.6 403.5L1137.0 397.0L1150.4 366.2L1163.8 379.0L1177.2 387.0L1190.6 398.8L1204.0 407.0L1217.4 410.0L1230.8 412.0L1244.2 412.0L1257.6 409.0L1271.0 404.7L1284.4 409.0L1297.7 405.6L1311.1 405.6L1324.5 407.0L1337.9 407.0L1351.3 398.8L1364.7 396.3L1378.1 400.5L1391.5 409.0L1404.9 406.4L1418.3 403.8" fill="none" stroke="#e2cb52" stroke-width="3" stroke-linejoin="round" stroke-linecap="round"/><path d="M118.9 398.2L124.9 404.2L118.9 410.2L112.9 404.2Z" fill="#e2cb52"/><path d="M132.3 404.6L138.3 410.6L132.3 416.6L126.3 410.6Z" fill="#e2cb52"/><path d="M145.7 404.6L151.7 410.6L145.7 416.6L139.7 410.6Z" fill="#e2cb52"/><path d="M159.1 402.9L165.1 408.9L159.1 414.9L153.1 408.9Z" fill="#e2cb52"/><path d="M172.5 405.4L178.5 411.4L172.5 417.4L166.5 411.4Z" fill="#e2cb52"/><path d="M185.9 400.8L191.9 406.8L185.9 412.8L179.9 406.8Z" fill="#e2cb52"/><path d="M199.3 407.5L205.3 413.5L199.3 419.5L193.3 413.5Z" fill="#e2cb52"/><path d="M212.7 405.5L218.7 411.5L212.7 417.5L206.7 411.5Z" fill="#e2cb52"/><path d="M226.1 403.1L232.1 409.1L226.1 415.1L220.1 409.1Z" fill="#e2cb52"/><path d="M239.5 404.0L245.5 410.0L239.5 416.0L233.5 410.0Z" fill="#e2cb52"/><path d="M252.9 399.2L258.9 405.2L252.9 411.2L246.9 405.2Z" fill="#e2cb52"/><path d="M266.3 399.2L272.3 405.2L266.3 411.2L260.3 405.2Z" fill="#e2cb52"/><path d="M279.7 403.1L285.7 409.1L279.7 415.1L273.7 409.1Z" fill="#e2cb52"/><path d="M293.0 402.1L299.0 408.1L293.0 414.1L287.0 408.1Z" fill="#e2cb52"/><path d="M306.4 400.2L312.4 406.2L306.4 412.2L300.4 406.2Z" fill="#e2cb52"/><path d="M319.8 405.1L325.8 411.1L319.8 417.1L313.8 411.1Z" fill="#e2cb52"/><path d="M333.2 405.0L339.2 411.0L333.2 417.0L327.2 411.0Z" fill="#e2cb52"/><path d="M346.6 405.0L352.6 411.0L346.6 417.0L340.6 411.0Z" fill="#e2cb52"/><path d="M360.0 388.6L366.0 394.6L360.0 400.6L354.0 394.6Z" fill="#e2cb52"/><path d="M373.4 367.6L379.4 373.6L373.4 379.6L367.4 373.6Z" fill="#e2cb52"/><path d="M386.8 371.0L392.8 377.0L386.8 383.0L380.8 377.0Z" fill="#e2cb52"/><path d="M400.2 378.0L406.2 384.0L400.2 390.0L394.2 384.0Z" fill="#e2cb52"/><path d="M413.6 373.6L419.6 379.6L413.6 385.6L407.6 379.6Z" fill="#e2cb52"/><path d="M427.0 355.1L433.0 361.1L427.0 367.1L421.0 361.1Z" fill="#e2cb52"/><path d="M440.4 347.4L446.4 353.4L440.4 359.4L434.4 353.4Z" fill="#e2cb52"/><path d="M453.8 362.4L459.8 368.4L453.8 374.4L447.8 368.4Z" fill="#e2cb52"/><path d="M467.2 372.0L473.2 378.0L467.2 384.0L461.2 378.0Z" fill="#e2cb52"/><path d="M480.6 386.0L486.6 392.0L480.6 398.0L474.6 392.0Z" fill="#e2cb52"/><path d="M494.0 386.0L500.0 392.0L494.0 398.0L488.0 392.0Z" fill="#e2cb52"/><path d="M507.4 398.0L513.4 404.0L507.4 410.0L501.4 404.0Z" fill="#e2cb52"/><path d="M520.8 404.0L526.8 410.0L520.8 416.0L514.8 410.0Z" fill="#e2cb52"/><path d="M534.2 407.0L540.2 413.0L534.2 419.0L528.2 413.0Z" fill="#e2cb52"/><path d="M547.6 408.0L553.6 414.0L547.6 420.0L541.6 414.0Z" fill="#e2cb52"/><path d="M561.0 406.0L567.0 412.0L561.0 418.0L555.0 412.0Z" fill="#e2cb52"/><path d="M574.4 402.0L580.4 408.0L574.4 414.0L568.4 408.0Z" fill="#e2cb52"/><path d="M587.8 399.6L593.8 405.6L587.8 411.6L581.8 405.6Z" fill="#e2cb52"/><path d="M601.2 388.4L607.2 394.4L601.2 400.4L595.2 394.4Z" fill="#e2cb52"/><path d="M614.6 395.3L620.6 401.3L614.6 407.3L608.6 401.3Z" fill="#e2cb52"/><path d="M627.9 396.2L633.9 402.2L627.9 408.2L621.9 402.2Z" fill="#e2cb52"/><path d="M641.3 389.9L647.3 395.9L641.3 401.9L635.3 395.9Z" fill="#e2cb52"/><path d="M654.7 388.8L660.7 394.8L654.7 400.8L648.7 394.8Z" fill="#e2cb52"/><path d="M668.1 378.7L674.1 384.7L668.1 390.7L662.1 384.7Z" fill="#e2cb52"/><path d="M681.5 374.3L687.5 380.3L681.5 386.3L675.5 380.3Z" fill="#e2cb52"/><path d="M694.9 387.0L700.9 393.0L694.9 399.0L688.9 393.0Z" fill="#e2cb52"/><path d="M708.3 392.0L714.3 398.0L708.3 404.0L702.3 398.0Z" fill="#e2cb52"/><path d="M721.7 381.9L727.7 387.9L721.7 393.9L715.7 387.9Z" fill="#e2cb52"/><path d="M735.1 377.7L741.1 383.7L735.1 389.7L729.1 383.7Z" fill="#e2cb52"/><path d="M748.5 384.4L754.5 390.4L748.5 396.4L742.5 390.4Z" fill="#e2cb52"/><path d="M761.9 382.4L767.9 388.4L761.9 394.4L755.9 388.4Z" fill="#e2cb52"/><path d="M775.3 388.6L781.3 394.6L775.3 400.6L769.3 394.6Z" fill="#e2cb52"/><path d="M788.7 392.8L794.7 398.8L788.7 404.8L782.7 398.8Z" fill="#e2cb52"/><path d="M802.1 388.6L808.1 394.6L802.1 400.6L796.1 394.6Z" fill="#e2cb52"/><path d="M815.5 394.5L821.5 400.5L815.5 406.5L809.5 400.5Z" fill="#e2cb52"/><path d="M828.9 385.2L834.9 391.2L828.9 397.2L822.9 391.2Z" fill="#e2cb52"/><path d="M842.3 382.7L848.3 388.7L842.3 394.7L836.3 388.7Z" fill="#e2cb52"/><path d="M855.7 384.4L861.7 390.4L855.7 396.4L849.7 390.4Z" fill="#e2cb52"/><path d="M869.1 370.0L875.1 376.0L869.1 382.0L863.1 376.0Z" fill="#e2cb52"/><path d="M882.5 379.4L888.5 385.4L882.5 391.4L876.5 385.4Z" fill="#e2cb52"/><path d="M895.9 380.2L901.9 386.2L895.9 392.2L889.9 386.2Z" fill="#e2cb52"/><path d="M909.3 380.2L915.3 386.2L909.3 392.2L903.3 386.2Z" fill="#e2cb52"/><path d="M922.7 388.6L928.7 394.6L922.7 400.6L916.7 394.6Z" fill="#e2cb52"/><path d="M936.1 371.6L942.1 377.6L936.1 383.6L930.1 377.6Z" fill="#e2cb52"/><path d="M949.5 379.4L955.5 385.4L949.5 391.4L943.5 385.4Z" fill="#e2cb52"/><path d="M962.8 381.9L968.8 387.9L962.8 393.9L956.8 387.9Z" fill="#e2cb52"/><path d="M976.2 378.0L982.2 384.0L976.2 390.0L970.2 384.0Z" fill="#e2cb52"/><path d="M989.6 380.0L995.6 386.0L989.6 392.0L983.6 386.0Z" fill="#e2cb52"/><path d="M1003.0 384.5L1009.0 390.5L1003.0 396.5L997.0 390.5Z" fill="#e2cb52"/><path d="M1016.4 385.0L1022.4 391.0L1016.4 397.0L1010.4 391.0Z" fill="#e2cb52"/><path d="M1029.8 390.0L1035.8 396.0L1029.8 402.0L1023.8 396.0Z" fill="#e2cb52"/><path d="M1043.2 392.5L1049.2 398.5L1043.2 404.5L1037.2 398.5Z" fill="#e2cb52"/><path d="M1056.6 390.0L1062.6 396.0L1056.6 402.0L1050.6 396.0Z" fill="#e2cb52"/><path d="M1070.0 388.6L1076.0 394.6L1070.0 400.6L1064.0 394.6Z" fill="#e2cb52"/><path d="M1083.4 387.0L1089.4 393.0L1083.4 399.0L1077.4 393.0Z" fill="#e2cb52"/><path d="M1096.8 386.0L1102.8 392.0L1096.8 398.0L1090.8 392.0Z" fill="#e2cb52"/><path d="M1110.2 395.0L1116.2 401.0L1110.2 407.0L1104.2 401.0Z" fill="#e2cb52"/><path d="M1123.6 397.5L1129.6 403.5L1123.6 409.5L1117.6 403.5Z" fill="#e2cb52"/><path d="M1137.0 391.0L1143.0 397.0L1137.0 403.0L1131.0 397.0Z" fill="#e2cb52"/><path d="M1150.4 360.2L1156.4 366.2L1150.4 372.2L1144.4 366.2Z" fill="#e2cb52"/><path d="M1163.8 373.0L1169.8 379.0L1163.8 385.0L1157.8 379.0Z" fill="#e2cb52"/><path d="M1177.2 381.0L1183.2 387.0L1177.2 393.0L1171.2 387.0Z" fill="#e2cb52"/><path d="M1190.6 392.8L1196.6 398.8L1190.6 404.8L1184.6 398.8Z" fill="#e2cb52"/><path d="M1204.0 401.0L1210.0 407.0L1204.0 413.0L1198.0 407.0Z" fill="#e2cb52"/><path d="M1217.4 404.0L1223.4 410.0L1217.4 416.0L1211.4 410.0Z" fill="#e2cb52"/><path d="M1230.8 406.0L1236.8 412.0L1230.8 418.0L1224.8 412.0Z" fill="#e2cb52"/><path d="M1244.2 406.0L1250.2 412.0L1244.2 418.0L1238.2 412.0Z" fill="#e2cb52"/><path d="M1257.6 403.0L1263.6 409.0L1257.6 415.0L1251.6 409.0Z" fill="#e2cb52"/><path d="M1271.0 398.7L1277.0 404.7L1271.0 410.7L1265.0 404.7Z" fill="#e2cb52"/><path d="M1284.4 403.0L1290.4 409.0L1284.4 415.0L1278.4 409.0Z" fill="#e2cb52"/><path d="M1297.7 399.6L1303.7 405.6L1297.7 411.6L1291.7 405.6Z" fill="#e2cb52"/><path d="M1311.1 399.6L1317.1 405.6L1311.1 411.6L1305.1 405.6Z" fill="#e2cb52"/><path d="M1324.5 401.0L1330.5 407.0L1324.5 413.0L1318.5 407.0Z" fill="#e2cb52"/><path d="M1337.9 401.0L1343.9 407.0L1337.9 413.0L1331.9 407.0Z" fill="#e2cb52"/><path d="M1351.3 392.8L1357.3 398.8L1351.3 404.8L1345.3 398.8Z" fill="#e2cb52"/><path d="M1364.7 390.3L1370.7 396.3L1364.7 402.3L1358.7 396.3Z" fill="#e2cb52"/><path d="M1378.1 394.5L1384.1 400.5L1378.1 406.5L1372.1 400.5Z" fill="#e2cb52"/><path d="M1391.5 403.0L1397.5 409.0L1391.5 415.0L1385.5 409.0Z" fill="#e2cb52"/>
<path d="M105.5 347.4L118.9 338.3L132.3 336.8L145.7 329.9L159.1 313.7L172.5 335.2L185.9 319.8L199.3 344.6L212.7 342.1L226.1 339.0L239.5 324.0L252.9 305.7L266.3 290.6L279.7 306.8L293.0 313.1L306.4 324.0L319.8 354.7L333.2 366.7L346.6 377.6L360.0 337.7L373.4 325.1L386.8 337.7L400.2 312.7L413.6 340.0L427.0 327.4L440.4 327.8L453.8 312.0L467.2 301.5L480.6 366.7L494.0 340.8L507.4 375.8L520.8 393.4L534.2 400.8L547.6 407.0L561.0 395.2L574.4 378.7L587.8 326.8L601.2 285.4L614.6 226.7L627.9 209.9L641.3 252.0L654.7 176.0L668.1 191.0L681.5 217.9L694.9 277.6L708.3 263.0L721.7 190.6L735.1 117.8L748.5 136.7L761.9 145.1L775.3 176.2L788.7 225.0L802.1 338.3L815.5 288.9L828.9 281.5L842.3 268.9L855.7 217.5L869.1 214.3L882.5 226.8L895.9 271.5L909.3 283.0L922.7 292.7L936.1 278.8L949.5 278.0L962.8 285.0L976.2 236.0L989.6 243.1L1003.0 295.7L1016.4 298.4L1029.8 305.8L1043.2 338.8L1056.6 343.4L1070.0 342.0L1083.4 316.7L1096.8 328.3L1110.2 364.9L1123.6 377.0L1137.0 365.0L1150.4 319.9L1163.8 324.7L1177.2 346.6L1190.6 362.2L1204.0 361.8L1217.4 379.5L1230.8 400.3L1244.2 400.5L1257.6 391.6L1271.0 377.0L1284.4 351.6L1297.7 321.0L1311.1 298.0L1324.5 286.4L1337.9 308.7L1351.3 268.6L1364.7 281.5L1378.1 308.7L1391.5 364.8L1404.9 297.1L1418.3 229.4" fill="none" stroke="#1d8583" stroke-width="3" stroke-linejoin="round" stroke-linecap="round"/><rect x="112.9" y="332.3" width="12" height="12" fill="#1d8583"/><rect x="126.3" y="330.8" width="12" height="12" fill="#1d8583"/><rect x="139.7" y="323.9" width="12" height="12" fill="#1d8583"/><rect x="153.1" y="307.7" width="12" height="12" fill="#1d8583"/><rect x="166.5" y="329.2" width="12" height="12" fill="#1d8583"/><rect x="179.9" y="313.8" width="12" height="12" fill="#1d8583"/><rect x="193.3" y="338.6" width="12" height="12" fill="#1d8583"/><rect x="206.7" y="336.1" width="12" height="12" fill="#1d8583"/><rect x="220.1" y="333.0" width="12" height="12" fill="#1d8583"/><rect x="233.5" y="318.0" width="12" height="12" fill="#1d8583"/><rect x="246.9" y="299.7" width="12" height="12" fill="#1d8583"/><rect x="260.3" y="284.6" width="12" height="12" fill="#1d8583"/><rect x="273.7" y="300.8" width="12" height="12" fill="#1d8583"/><rect x="287.0" y="307.1" width="12" height="12" fill="#1d8583"/><rect x="300.4" y="318.0" width="12" height="12" fill="#1d8583"/><rect x="313.8" y="348.7" width="12" height="12" fill="#1d8583"/><rect x="327.2" y="360.7" width="12" height="12" fill="#1d8583"/><rect x="340.6" y="371.6" width="12" height="12" fill="#1d8583"/><rect x="354.0" y="331.7" width="12" height="12" fill="#1d8583"/><rect x="367.4" y="319.1" width="12" height="12" fill="#1d8583"/><rect x="380.8" y="331.7" width="12" height="12" fill="#1d8583"/><rect x="394.2" y="306.7" width="12" height="12" fill="#1d8583"/><rect x="407.6" y="334.0" width="12" height="12" fill="#1d8583"/><rect x="421.0" y="321.4" width="12" height="12" fill="#1d8583"/><rect x="434.4" y="321.8" width="12" height="12" fill="#1d8583"/><rect x="447.8" y="306.0" width="12" height="12" fill="#1d8583"/><rect x="461.2" y="295.5" width="12" height="12" fill="#1d8583"/><rect x="474.6" y="360.7" width="12" height="12" fill="#1d8583"/><rect x="488.0" y="334.8" width="12" height="12" fill="#1d8583"/><rect x="501.4" y="369.8" width="12" height="12" fill="#1d8583"/><rect x="514.8" y="387.4" width="12" height="12" fill="#1d8583"/><rect x="528.2" y="394.8" width="12" height="12" fill="#1d8583"/><rect x="541.6" y="401.0" width="12" height="12" fill="#1d8583"/><rect x="555.0" y="389.2" width="12" height="12" fill="#1d8583"/><rect x="568.4" y="372.7" width="12" height="12" fill="#1d8583"/><rect x="581.8" y="320.8" width="12" height="12" fill="#1d8583"/><rect x="595.2" y="279.4" width="12" height="12" fill="#1d8583"/><rect x="608.6" y="220.7" width="12" height="12" fill="#1d8583"/><rect x="621.9" y="203.9" width="12" height="12" fill="#1d8583"/><rect x="635.3" y="246.0" width="12" height="12" fill="#1d8583"/><rect x="648.7" y="170.0" width="12" height="12" fill="#1d8583"/><rect x="662.1" y="185.0" width="12" height="12" fill="#1d8583"/><rect x="675.5" y="211.9" width="12" height="12" fill="#1d8583"/><rect x="688.9" y="271.6" width="12" height="12" fill="#1d8583"/><rect x="702.3" y="257.0" width="12" height="12" fill="#1d8583"/><rect x="715.7" y="184.6" width="12" height="12" fill="#1d8583"/><rect x="729.1" y="111.8" width="12" height="12" fill="#1d8583"/><rect x="742.5" y="130.7" width="12" height="12" fill="#1d8583"/><rect x="755.9" y="139.1" width="12" height="12" fill="#1d8583"/><rect x="769.3" y="170.2" width="12" height="12" fill="#1d8583"/><rect x="782.7" y="219.0" width="12" height="12" fill="#1d8583"/><rect x="796.1" y="332.3" width="12" height="12" fill="#1d8583"/><rect x="809.5" y="282.9" width="12" height="12" fill="#1d8583"/><rect x="822.9" y="275.5" width="12" height="12" fill="#1d8583"/><rect x="836.3" y="262.9" width="12" height="12" fill="#1d8583"/><rect x="849.7" y="211.5" width="12" height="12" fill="#1d8583"/><rect x="863.1" y="208.3" width="12" height="12" fill="#1d8583"/><rect x="876.5" y="220.8" width="12" height="12" fill="#1d8583"/><rect x="889.9" y="265.5" width="12" height="12" fill="#1d8583"/><rect x="903.3" y="277.0" width="12" height="12" fill="#1d8583"/><rect x="916.7" y="286.7" width="12" height="12" fill="#1d8583"/><rect x="930.1" y="272.8" width="12" height="12" fill="#1d8583"/><rect x="943.5" y="272.0" width="12" height="12" fill="#1d8583"/><rect x="956.8" y="279.0" width="12" height="12" fill="#1d8583"/><rect x="970.2" y="230.0" width="12" height="12" fill="#1d8583"/><rect x="983.6" y="237.1" width="12" height="12" fill="#1d8583"/><rect x="997.0" y="289.7" width="12" height="12" fill="#1d8583"/><rect x="1010.4" y="292.4" width="12" height="12" fill="#1d8583"/><rect x="1023.8" y="299.8" width="12" height="12" fill="#1d8583"/><rect x="1037.2" y="332.8" width="12" height="12" fill="#1d8583"/><rect x="1050.6" y="337.4" width="12" height="12" fill="#1d8583"/><rect x="1064.0" y="336.0" width="12" height="12" fill="#1d8583"/><rect x="1077.4" y="310.7" width="12" height="12" fill="#1d8583"/><rect x="1090.8" y="322.3" width="12" height="12" fill="#1d8583"/><rect x="1104.2" y="358.9" width="12" height="12" fill="#1d8583"/><rect x="1117.6" y="371.0" width="12" height="12" fill="#1d8583"/><rect x="1131.0" y="359.0" width="12" height="12" fill="#1d8583"/><rect x="1144.4" y="313.9" width="12" height="12" fill="#1d8583"/><rect x="1157.8" y="318.7" width="12" height="12" fill="#1d8583"/><rect x="1171.2" y="340.6" width="12" height="12" fill="#1d8583"/><rect x="1184.6" y="356.2" width="12" height="12" fill="#1d8583"/><rect x="1198.0" y="355.8" width="12" height="12" fill="#1d8583"/><rect x="1211.4" y="373.5" width="12" height="12" fill="#1d8583"/><rect x="1224.8" y="394.3" width="12" height="12" fill="#1d8583"/><rect x="1238.2" y="394.5" width="12" height="12" fill="#1d8583"/><rect x="1251.6" y="385.6" width="12" height="12" fill="#1d8583"/><rect x="1265.0" y="371.0" width="12" height="12" fill="#1d8583"/><rect x="1278.4" y="345.6" width="12" height="12" fill="#1d8583"/><rect x="1291.7" y="315.0" width="12" height="12" fill="#1d8583"/><rect x="1305.1" y="292.0" width="12" height="12" fill="#1d8583"/><rect x="1318.5" y="280.4" width="12" height="12" fill="#1d8583"/><rect x="1331.9" y="302.7" width="12" height="12" fill="#1d8583"/><rect x="1345.3" y="262.6" width="12" height="12" fill="#1d8583"/><rect x="1358.7" y="275.5" width="12" height="12" fill="#1d8583"/><rect x="1372.1" y="302.7" width="12" height="12" fill="#1d8583"/><rect x="1385.5" y="358.8" width="12" height="12" fill="#1d8583"/>
<path d="M105.5 381.0L118.9 339.0L132.3 291.0L145.7 283.7L159.1 309.3L172.5 348.8L185.9 389.6L199.3 399.5L212.7 400.3L226.1 398.3L239.5 398.3L252.9 393.4L266.3 372.0L279.7 380.0L293.0 377.8L306.4 384.5L319.8 398.8L333.2 398.8L346.6 410.6L360.0 410.6L373.4 409.0L386.8 410.0L400.2 410.0L413.6 409.0L427.0 406.4L440.4 401.3L453.8 392.0L467.2 380.0L480.6 403.9L494.0 406.4L507.4 410.0L520.8 412.0L534.2 413.0L547.6 414.0L561.0 412.0L574.4 408.0L587.8 403.9L601.2 399.7L614.6 403.0L627.9 407.5L641.3 407.0L654.7 409.0L668.1 408.0L681.5 410.0L694.9 411.0L708.3 412.0L721.7 412.5L735.1 412.0L748.5 410.5L761.9 412.5L775.3 414.0L788.7 415.0L802.1 415.5L815.5 415.5L828.9 415.5L842.3 415.5L855.7 415.5L869.1 415.5L882.5 415.5L895.9 415.5L909.3 415.5L922.7 414.5L936.1 410.5L949.5 409.0L962.8 407.2L976.2 408.0L989.6 409.8L1003.0 412.3L1016.4 409.0L1029.8 412.0L1043.2 414.0L1056.6 416.0L1070.0 417.0L1083.4 418.0L1096.8 418.5L1110.2 419.0L1123.6 420.0L1137.0 420.0L1150.4 420.0L1163.8 420.0L1177.2 420.0L1190.6 420.0L1204.0 420.0L1217.4 420.0L1230.8 419.0L1244.2 417.0L1257.6 412.0L1271.0 404.0L1284.4 394.6L1297.7 398.0L1311.1 400.5L1324.5 405.0L1337.9 409.0L1351.3 410.6L1364.7 412.0L1378.1 414.0L1391.5 416.0L1404.9 415.0L1418.3 414.0" fill="none" stroke="#f54f52" stroke-width="3" stroke-linejoin="round" stroke-linecap="round"/><path d="M118.9 333.0L124.9 345.0L112.9 345.0Z" fill="#f54f52"/><path d="M132.3 285.0L138.3 297.0L126.3 297.0Z" fill="#f54f52"/><path d="M145.7 277.7L151.7 289.7L139.7 289.7Z" fill="#f54f52"/><path d="M159.1 303.3L165.1 315.3L153.1 315.3Z" fill="#f54f52"/><path d="M172.5 342.8L178.5 354.8L166.5 354.8Z" fill="#f54f52"/><path d="M185.9 383.6L191.9 395.6L179.9 395.6Z" fill="#f54f52"/><path d="M199.3 393.5L205.3 405.5L193.3 405.5Z" fill="#f54f52"/><path d="M212.7 394.3L218.7 406.3L206.7 406.3Z" fill="#f54f52"/><path d="M226.1 392.3L232.1 404.3L220.1 404.3Z" fill="#f54f52"/><path d="M239.5 392.3L245.5 404.3L233.5 404.3Z" fill="#f54f52"/><path d="M252.9 387.4L258.9 399.4L246.9 399.4Z" fill="#f54f52"/><path d="M266.3 366.0L272.3 378.0L260.3 378.0Z" fill="#f54f52"/><path d="M279.7 374.0L285.7 386.0L273.7 386.0Z" fill="#f54f52"/><path d="M293.0 371.8L299.0 383.8L287.0 383.8Z" fill="#f54f52"/><path d="M306.4 378.5L312.4 390.5L300.4 390.5Z" fill="#f54f52"/><path d="M319.8 392.8L325.8 404.8L313.8 404.8Z" fill="#f54f52"/><path d="M333.2 392.8L339.2 404.8L327.2 404.8Z" fill="#f54f52"/><path d="M346.6 404.6L352.6 416.6L340.6 416.6Z" fill="#f54f52"/><path d="M360.0 404.6L366.0 416.6L354.0 416.6Z" fill="#f54f52"/><path d="M373.4 403.0L379.4 415.0L367.4 415.0Z" fill="#f54f52"/><path d="M386.8 404.0L392.8 416.0L380.8 416.0Z" fill="#f54f52"/><path d="M400.2 404.0L406.2 416.0L394.2 416.0Z" fill="#f54f52"/><path d="M413.6 403.0L419.6 415.0L407.6 415.0Z" fill="#f54f52"/><path d="M427.0 400.4L433.0 412.4L421.0 412.4Z" fill="#f54f52"/><path d="M440.4 395.3L446.4 407.3L434.4 407.3Z" fill="#f54f52"/><path d="M453.8 386.0L459.8 398.0L447.8 398.0Z" fill="#f54f52"/><path d="M467.2 374.0L473.2 386.0L461.2 386.0Z" fill="#f54f52"/><path d="M480.6 397.9L486.6 409.9L474.6 409.9Z" fill="#f54f52"/><path d="M494.0 400.4L500.0 412.4L488.0 412.4Z" fill="#f54f52"/><path d="M507.4 404.0L513.4 416.0L501.4 416.0Z" fill="#f54f52"/><path d="M520.8 406.0L526.8 418.0L514.8 418.0Z" fill="#f54f52"/><path d="M534.2 407.0L540.2 419.0L528.2 419.0Z" fill="#f54f52"/><path d="M547.6 408.0L553.6 420.0L541.6 420.0Z" fill="#f54f52"/><path d="M561.0 406.0L567.0 418.0L555.0 418.0Z" fill="#f54f52"/><path d="M574.4 402.0L580.4 414.0L568.4 414.0Z" fill="#f54f52"/><path d="M587.8 397.9L593.8 409.9L581.8 409.9Z" fill="#f54f52"/><path d="M601.2 393.7L607.2 405.7L595.2 405.7Z" fill="#f54f52"/><path d="M614.6 397.0L620.6 409.0L608.6 409.0Z" fill="#f54f52"/><path d="M627.9 401.5L633.9 413.5L621.9 413.5Z" fill="#f54f52"/><path d="M641.3 401.0L647.3 413.0L635.3 413.0Z" fill="#f54f52"/><path d="M654.7 403.0L660.7 415.0L648.7 415.0Z" fill="#f54f52"/><path d="M668.1 402.0L674.1 414.0L662.1 414.0Z" fill="#f54f52"/><path d="M681.5 404.0L687.5 416.0L675.5 416.0Z" fill="#f54f52"/><path d="M694.9 405.0L700.9 417.0L688.9 417.0Z" fill="#f54f52"/><path d="M708.3 406.0L714.3 418.0L702.3 418.0Z" fill="#f54f52"/><path d="M721.7 406.5L727.7 418.5L715.7 418.5Z" fill="#f54f52"/><path d="M735.1 406.0L741.1 418.0L729.1 418.0Z" fill="#f54f52"/><path d="M748.5 404.5L754.5 416.5L742.5 416.5Z" fill="#f54f52"/><path d="M761.9 406.5L767.9 418.5L755.9 418.5Z" fill="#f54f52"/><path d="M775.3 408.0L781.3 420.0L769.3 420.0Z" fill="#f54f52"/><path d="M788.7 409.0L794.7 421.0L782.7 421.0Z" fill="#f54f52"/><path d="M802.1 409.5L808.1 421.5L796.1 421.5Z" fill="#f54f52"/><path d="M815.5 409.5L821.5 421.5L809.5 421.5Z" fill="#f54f52"/><path d="M828.9 409.5L834.9 421.5L822.9 421.5Z" fill="#f54f52"/><path d="M842.3 409.5L848.3 421.5L836.3 421.5Z" fill="#f54f52"/><path d="M855.7 409.5L861.7 421.5L849.7 421.5Z" fill="#f54f52"/><path d="M869.1 409.5L875.1 421.5L863.1 421.5Z" fill="#f54f52"/><path d="M882.5 409.5L888.5 421.5L876.5 421.5Z" fill="#f54f52"/><path d="M895.9 409.5L901.9 421.5L889.9 421.5Z" fill="#f54f52"/><path d="M909.3 409.5L915.3 421.5L903.3 421.5Z" fill="#f54f52"/><path d="M922.7 408.5L928.7 420.5L916.7 420.5Z" fill="#f54f52"/><path d="M936.1 404.5L942.1 416.5L930.1 416.5Z" fill="#f54f52"/><path d="M949.5 403.0L955.5 415.0L943.5 415.0Z" fill="#f54f52"/><path d="M962.8 401.2L968.8 413.2L956.8 413.2Z" fill="#f54f52"/><path d="M976.2 402.0L982.2 414.0L970.2 414.0Z" fill="#f54f52"/><path d="M989.6 403.8L995.6 415.8L983.6 415.8Z" fill="#f54f52"/><path d="M1003.0 406.3L1009.0 418.3L997.0 418.3Z" fill="#f54f52"/><path d="M1016.4 403.0L1022.4 415.0L1010.4 415.0Z" fill="#f54f52"/><path d="M1029.8 406.0L1035.8 418.0L1023.8 418.0Z" fill="#f54f52"/><path d="M1043.2 408.0L1049.2 420.0L1037.2 420.0Z" fill="#f54f52"/><path d="M1056.6 410.0L1062.6 422.0L1050.6 422.0Z" fill="#f54f52"/><path d="M1070.0 411.0L1076.0 423.0L1064.0 423.0Z" fill="#f54f52"/><path d="M1083.4 412.0L1089.4 424.0L1077.4 424.0Z" fill="#f54f52"/><path d="M1096.8 412.5L1102.8 424.5L1090.8 424.5Z" fill="#f54f52"/><path d="M1110.2 413.0L1116.2 425.0L1104.2 425.0Z" fill="#f54f52"/><path d="M1123.6 414.0L1129.6 426.0L1117.6 426.0Z" fill="#f54f52"/><path d="M1137.0 414.0L1143.0 426.0L1131.0 426.0Z" fill="#f54f52"/><path d="M1150.4 414.0L1156.4 426.0L1144.4 426.0Z" fill="#f54f52"/><path d="M1163.8 414.0L1169.8 426.0L1157.8 426.0Z" fill="#f54f52"/><path d="M1177.2 414.0L1183.2 426.0L1171.2 426.0Z" fill="#f54f52"/><path d="M1190.6 414.0L1196.6 426.0L1184.6 426.0Z" fill="#f54f52"/><path d="M1204.0 414.0L1210.0 426.0L1198.0 426.0Z" fill="#f54f52"/><path d="M1217.4 414.0L1223.4 426.0L1211.4 426.0Z" fill="#f54f52"/><path d="M1230.8 413.0L1236.8 425.0L1224.8 425.0Z" fill="#f54f52"/><path d="M1244.2 411.0L1250.2 423.0L1238.2 423.0Z" fill="#f54f52"/><path d="M1257.6 406.0L1263.6 418.0L1251.6 418.0Z" fill="#f54f52"/><path d="M1271.0 398.0L1277.0 410.0L1265.0 410.0Z" fill="#f54f52"/><path d="M1284.4 388.6L1290.4 400.6L1278.4 400.6Z" fill="#f54f52"/><path d="M1297.7 392.0L1303.7 404.0L1291.7 404.0Z" fill="#f54f52"/><path d="M1311.1 394.5L1317.1 406.5L1305.1 406.5Z" fill="#f54f52"/><path d="M1324.5 399.0L1330.5 411.0L1318.5 411.0Z" fill="#f54f52"/><path d="M1337.9 403.0L1343.9 415.0L1331.9 415.0Z" fill="#f54f52"/><path d="M1351.3 404.6L1357.3 416.6L1345.3 416.6Z" fill="#f54f52"/><path d="M1364.7 406.0L1370.7 418.0L1358.7 418.0Z" fill="#f54f52"/><path d="M1378.1 408.0L1384.1 420.0L1372.1 420.0Z" fill="#f54f52"/><path d="M1391.5 410.0L1397.5 422.0L1385.5 422.0Z" fill="#f54f52"/>
<path d="M105.5 417.3L118.9 418.1L132.3 417.0L145.7 417.6L159.1 418.1L172.5 417.0L185.9 417.6L199.3 418.1L212.7 417.0L226.1 417.6L239.5 418.1L252.9 417.0L266.3 417.6L279.7 418.1L293.0 417.0L306.4 417.6L319.8 418.1L333.2 417.0L346.6 417.6L360.0 418.1L373.4 417.0L386.8 417.6L400.2 418.1L413.6 417.0L427.0 417.6L440.4 418.1L453.8 417.0L467.2 417.6L480.6 418.1L494.0 417.0L507.4 417.6L520.8 418.1L534.2 417.0L547.6 417.6L561.0 418.1L574.4 417.0L587.8 417.6L601.2 418.1L614.6 417.0L627.9 417.6L641.3 418.1L654.7 417.0L668.1 417.6L681.5 418.1L694.9 417.0L708.3 417.6L721.7 418.1L735.1 417.0L748.5 417.6L761.9 418.1L775.3 417.0L788.7 417.6L802.1 418.1L815.5 417.0L828.9 417.6L842.3 418.1L855.7 417.0L869.1 417.6L882.5 418.1L895.9 417.0L909.3 417.6L922.7 418.1L936.1 417.0L949.5 417.6L962.8 418.1L976.2 417.0L989.6 417.6L1003.0 418.1L1016.4 417.0L1029.8 417.6L1043.2 418.1L1056.6 417.0L1070.0 417.6L1083.4 418.1L1096.8 417.0L1110.2 417.6L1123.6 418.1L1137.0 417.0L1150.4 417.6L1163.8 418.1L1177.2 417.0L1190.6 417.6L1204.0 418.1L1217.4 417.0L1230.8 417.6L1244.2 418.1L1257.6 417.0L1271.0 417.6L1284.4 418.1L1297.7 417.0L1311.1 417.6L1324.5 418.1L1337.9 417.0L1351.3 417.6L1364.7 418.1L1378.1 417.0L1391.5 417.6L1404.9 418.1L1418.3 418.6" fill="none" stroke="#82e0da" stroke-width="3" stroke-linejoin="round" stroke-linecap="round"/><path d="M112.9 412.1L124.9 412.1L118.9 424.1Z" fill="#82e0da"/><path d="M126.3 411.0L138.3 411.0L132.3 423.0Z" fill="#82e0da"/><path d="M139.7 411.6L151.7 411.6L145.7 423.6Z" fill="#82e0da"/><path d="M153.1 412.1L165.1 412.1L159.1 424.1Z" fill="#82e0da"/><path d="M166.5 411.0L178.5 411.0L172.5 423.0Z" fill="#82e0da"/><path d="M179.9 411.6L191.9 411.6L185.9 423.6Z" fill="#82e0da"/><path d="M193.3 412.1L205.3 412.1L199.3 424.1Z" fill="#82e0da"/><path d="M206.7 411.0L218.7 411.0L212.7 423.0Z" fill="#82e0da"/><path d="M220.1 411.6L232.1 411.6L226.1 423.6Z" fill="#82e0da"/><path d="M233.5 412.1L245.5 412.1L239.5 424.1Z" fill="#82e0da"/><path d="M246.9 411.0L258.9 411.0L252.9 423.0Z" fill="#82e0da"/><path d="M260.3 411.6L272.3 411.6L266.3 423.6Z" fill="#82e0da"/><path d="M273.7 412.1L285.7 412.1L279.7 424.1Z" fill="#82e0da"/><path d="M287.0 411.0L299.0 411.0L293.0 423.0Z" fill="#82e0da"/><path d="M300.4 411.6L312.4 411.6L306.4 423.6Z" fill="#82e0da"/><path d="M313.8 412.1L325.8 412.1L319.8 424.1Z" fill="#82e0da"/><path d="M327.2 411.0L339.2 411.0L333.2 423.0Z" fill="#82e0da"/><path d="M340.6 411.6L352.6 411.6L346.6 423.6Z" fill="#82e0da"/><path d="M354.0 412.1L366.0 412.1L360.0 424.1Z" fill="#82e0da"/><path d="M367.4 411.0L379.4 411.0L373.4 423.0Z" fill="#82e0da"/><path d="M380.8 411.6L392.8 411.6L386.8 423.6Z" fill="#82e0da"/><path d="M394.2 412.1L406.2 412.1L400.2 424.1Z" fill="#82e0da"/><path d="M407.6 411.0L419.6 411.0L413.6 423.0Z" fill="#82e0da"/><path d="M421.0 411.6L433.0 411.6L427.0 423.6Z" fill="#82e0da"/><path d="M434.4 412.1L446.4 412.1L440.4 424.1Z" fill="#82e0da"/><path d="M447.8 411.0L459.8 411.0L453.8 423.0Z" fill="#82e0da"/><path d="M461.2 411.6L473.2 411.6L467.2 423.6Z" fill="#82e0da"/><path d="M474.6 412.1L486.6 412.1L480.6 424.1Z" fill="#82e0da"/><path d="M488.0 411.0L500.0 411.0L494.0 423.0Z" fill="#82e0da"/><path d="M501.4 411.6L513.4 411.6L507.4 423.6Z" fill="#82e0da"/><path d="M514.8 412.1L526.8 412.1L520.8 424.1Z" fill="#82e0da"/><path d="M528.2 411.0L540.2 411.0L534.2 423.0Z" fill="#82e0da"/><path d="M541.6 411.6L553.6 411.6L547.6 423.6Z" fill="#82e0da"/><path d="M555.0 412.1L567.0 412.1L561.0 424.1Z" fill="#82e0da"/><path d="M568.4 411.0L580.4 411.0L574.4 423.0Z" fill="#82e0da"/><path d="M581.8 411.6L593.8 411.6L587.8 423.6Z" fill="#82e0da"/><path d="M595.2 412.1L607.2 412.1L601.2 424.1Z" fill="#82e0da"/><path d="M608.6 411.0L620.6 411.0L614.6 423.0Z" fill="#82e0da"/><path d="M621.9 411.6L633.9 411.6L627.9 423.6Z" fill="#82e0da"/><path d="M635.3 412.1L647.3 412.1L641.3 424.1Z" fill="#82e0da"/><path d="M648.7 411.0L660.7 411.0L654.7 423.0Z" fill="#82e0da"/><path d="M662.1 411.6L674.1 411.6L668.1 423.6Z" fill="#82e0da"/><path d="M675.5 412.1L687.5 412.1L681.5 424.1Z" fill="#82e0da"/><path d="M688.9 411.0L700.9 411.0L694.9 423.0Z" fill="#82e0da"/><path d="M702.3 411.6L714.3 411.6L708.3 423.6Z" fill="#82e0da"/><path d="M715.7 412.1L727.7 412.1L721.7 424.1Z" fill="#82e0da"/><path d="M729.1 411.0L741.1 411.0L735.1 423.0Z" fill="#82e0da"/><path d="M742.5 411.6L754.5 411.6L748.5 423.6Z" fill="#82e0da"/><path d="M755.9 412.1L767.9 412.1L761.9 424.1Z" fill="#82e0da"/><path d="M769.3 411.0L781.3 411.0L775.3 423.0Z" fill="#82e0da"/><path d="M782.7 411.6L794.7 411.6L788.7 423.6Z" fill="#82e0da"/><path d="M796.1 412.1L808.1 412.1L802.1 424.1Z" fill="#82e0da"/><path d="M809.5 411.0L821.5 411.0L815.5 423.0Z" fill="#82e0da"/><path d="M822.9 411.6L834.9 411.6L828.9 423.6Z" fill="#82e0da"/><path d="M836.3 412.1L848.3 412.1L842.3 424.1Z" fill="#82e0da"/><path d="M849.7 411.0L861.7 411.0L855.7 423.0Z" fill="#82e0da"/><path d="M863.1 411.6L875.1 411.6L869.1 423.6Z" fill="#82e0da"/><path d="M876.5 412.1L888.5 412.1L882.5 424.1Z" fill="#82e0da"/><path d="M889.9 411.0L901.9 411.0L895.9 423.0Z" fill="#82e0da"/><path d="M903.3 411.6L915.3 411.6L909.3 423.6Z" fill="#82e0da"/><path d="M916.7 412.1L928.7 412.1L922.7 424.1Z" fill="#82e0da"/><path d="M930.1 411.0L942.1 411.0L936.1 423.0Z" fill="#82e0da"/><path d="M943.5 411.6L955.5 411.6L949.5 423.6Z" fill="#82e0da"/><path d="M956.8 412.1L968.8 412.1L962.8 424.1Z" fill="#82e0da"/><path d="M970.2 411.0L982.2 411.0L976.2 423.0Z" fill="#82e0da"/><path d="M983.6 411.6L995.6 411.6L989.6 423.6Z" fill="#82e0da"/><path d="M997.0 412.1L1009.0 412.1L1003.0 424.1Z" fill="#82e0da"/><path d="M1010.4 411.0L1022.4 411.0L1016.4 423.0Z" fill="#82e0da"/><path d="M1023.8 411.6L1035.8 411.6L1029.8 423.6Z" fill="#82e0da"/><path d="M1037.2 412.1L1049.2 412.1L1043.2 424.1Z" fill="#82e0da"/><path d="M1050.6 411.0L1062.6 411.0L1056.6 423.0Z" fill="#82e0da"/><path d="M1064.0 411.6L1076.0 411.6L1070.0 423.6Z" fill="#82e0da"/><path d="M1077.4 412.1L1089.4 412.1L1083.4 424.1Z" fill="#82e0da"/><path d="M1090.8 411.0L1102.8 411.0L1096.8 423.0Z" fill="#82e0da"/><path d="M1104.2 411.6L1116.2 411.6L1110.2 423.6Z" fill="#82e0da"/><path d="M1117.6 412.1L1129.6 412.1L1123.6 424.1Z" fill="#82e0da"/><path d="M1131.0 411.0L1143.0 411.0L1137.0 423.0Z" fill="#82e0da"/><path d="M1144.4 411.6L1156.4 411.6L1150.4 423.6Z" fill="#82e0da"/><path d="M1157.8 412.1L1169.8 412.1L1163.8 424.1Z" fill="#82e0da"/><path d="M1171.2 411.0L1183.2 411.0L1177.2 423.0Z" fill="#82e0da"/><path d="M1184.6 411.6L1196.6 411.6L1190.6 423.6Z" fill="#82e0da"/><path d="M1198.0 412.1L1210.0 412.1L1204.0 424.1Z" fill="#82e0da"/><path d="M1211.4 411.0L1223.4 411.0L1217.4 423.0Z" fill="#82e0da"/><path d="M1224.8 411.6L1236.8 411.6L1230.8 423.6Z" fill="#82e0da"/><path d="M1238.2 412.1L1250.2 412.1L1244.2 424.1Z" fill="#82e0da"/><path d="M1251.6 411.0L1263.6 411.0L1257.6 423.0Z" fill="#82e0da"/><path d="M1265.0 411.6L1277.0 411.6L1271.0 423.6Z" fill="#82e0da"/><path d="M1278.4 412.1L1290.4 412.1L1284.4 424.1Z" fill="#82e0da"/><path d="M1291.7 411.0L1303.7 411.0L1297.7 423.0Z" fill="#82e0da"/><path d="M1305.1 411.6L1317.1 411.6L1311.1 423.6Z" fill="#82e0da"/><path d="M1318.5 412.1L1330.5 412.1L1324.5 424.1Z" fill="#82e0da"/><path d="M1331.9 411.0L1343.9 411.0L1337.9 423.0Z" fill="#82e0da"/><path d="M1345.3 411.6L1357.3 411.6L1351.3 423.6Z" fill="#82e0da"/><path d="M1358.7 412.1L1370.7 412.1L1364.7 424.1Z" fill="#82e0da"/><path d="M1372.1 411.0L1384.1 411.0L1378.1 423.0Z" fill="#82e0da"/><path d="M1385.5 411.6L1397.5 411.6L1391.5 423.6Z" fill="#82e0da"/>
<path d="M105.5 390.6L118.9 371.5L132.3 390.2L145.7 371.5L159.1 379.3L172.5 386.7L185.9 381.4L199.3 384.6L212.7 378.3L226.1 373.0L239.5 372.4L252.9 370.3L266.3 373.4L279.7 373.0L293.0 366.0L306.4 369.2L319.8 362.5L333.2 371.2L346.6 392.0L360.0 364.4L373.4 361.0L386.8 369.9L400.2 372.4L413.6 369.6L427.0 377.5L440.4 374.2L453.8 383.4L467.2 384.5L480.6 393.9L494.0 385.8L507.4 400.0L520.8 409.8L534.2 410.6L547.6 414.0L561.0 415.0L574.4 416.0L587.8 416.0L601.2 415.0L614.6 414.0L627.9 409.8L641.3 413.0L654.7 406.4L668.1 410.6L681.5 407.2L694.9 410.6L708.3 406.4L721.7 410.6L735.1 407.7L748.5 408.4L761.9 408.0L775.3 403.9L788.7 409.8L802.1 408.9L815.5 404.4L828.9 405.6L842.3 408.0L855.7 403.4L869.1 407.2L882.5 405.6L895.9 403.9L909.3 401.3L922.7 403.5L936.1 401.0L949.5 401.0L962.8 398.0L976.2 384.5L989.6 381.6L1003.0 389.6L1016.4 389.2L1029.8 395.0L1043.2 398.0L1056.6 395.5L1070.0 404.7L1083.4 394.6L1096.8 398.0L1110.2 407.2L1123.6 411.4L1137.0 401.9L1150.4 387.9L1163.8 400.2L1177.2 400.5L1190.6 400.0L1204.0 405.4L1217.4 408.4L1230.8 409.3L1244.2 413.0L1257.6 414.0L1271.0 416.0L1284.4 418.0L1297.7 417.0L1311.1 416.0L1324.5 416.0L1337.9 415.0L1351.3 415.0L1364.7 411.4L1378.1 415.0L1391.5 413.0L1404.9 409.0L1418.3 405.0" fill="none" stroke="#6cace4" stroke-width="3" stroke-linejoin="round" stroke-linecap="round"/><circle cx="118.9" cy="371.5" r="6" fill="#6cace4"/><circle cx="132.3" cy="390.2" r="6" fill="#6cace4"/><circle cx="145.7" cy="371.5" r="6" fill="#6cace4"/><circle cx="159.1" cy="379.3" r="6" fill="#6cace4"/><circle cx="172.5" cy="386.7" r="6" fill="#6cace4"/><circle cx="185.9" cy="381.4" r="6" fill="#6cace4"/><circle cx="199.3" cy="384.6" r="6" fill="#6cace4"/><circle cx="212.7" cy="378.3" r="6" fill="#6cace4"/><circle cx="226.1" cy="373.0" r="6" fill="#6cace4"/><circle cx="239.5" cy="372.4" r="6" fill="#6cace4"/><circle cx="252.9" cy="370.3" r="6" fill="#6cace4"/><circle cx="266.3" cy="373.4" r="6" fill="#6cace4"/><circle cx="279.7" cy="373.0" r="6" fill="#6cace4"/><circle cx="293.0" cy="366.0" r="6" fill="#6cace4"/><circle cx="306.4" cy="369.2" r="6" fill="#6cace4"/><circle cx="319.8" cy="362.5" r="6" fill="#6cace4"/><circle cx="333.2" cy="371.2" r="6" fill="#6cace4"/><circle cx="346.6" cy="392.0" r="6" fill="#6cace4"/><circle cx="360.0" cy="364.4" r="6" fill="#6cace4"/><circle cx="373.4" cy="361.0" r="6" fill="#6cace4"/><circle cx="386.8" cy="369.9" r="6" fill="#6cace4"/><circle cx="400.2" cy="372.4" r="6" fill="#6cace4"/><circle cx="413.6" cy="369.6" r="6" fill="#6cace4"/><circle cx="427.0" cy="377.5" r="6" fill="#6cace4"/><circle cx="440.4" cy="374.2" r="6" fill="#6cace4"/><circle cx="453.8" cy="383.4" r="6" fill="#6cace4"/><circle cx="467.2" cy="384.5" r="6" fill="#6cace4"/><circle cx="480.6" cy="393.9" r="6" fill="#6cace4"/><circle cx="494.0" cy="385.8" r="6" fill="#6cace4"/><circle cx="507.4" cy="400.0" r="6" fill="#6cace4"/><circle cx="520.8" cy="409.8" r="6" fill="#6cace4"/><circle cx="534.2" cy="410.6" r="6" fill="#6cace4"/><circle cx="547.6" cy="414.0" r="6" fill="#6cace4"/><circle cx="561.0" cy="415.0" r="6" fill="#6cace4"/><circle cx="574.4" cy="416.0" r="6" fill="#6cace4"/><circle cx="587.8" cy="416.0" r="6" fill="#6cace4"/><circle cx="601.2" cy="415.0" r="6" fill="#6cace4"/><circle cx="614.6" cy="414.0" r="6" fill="#6cace4"/><circle cx="627.9" cy="409.8" r="6" fill="#6cace4"/><circle cx="641.3" cy="413.0" r="6" fill="#6cace4"/><circle cx="654.7" cy="406.4" r="6" fill="#6cace4"/><circle cx="668.1" cy="410.6" r="6" fill="#6cace4"/><circle cx="681.5" cy="407.2" r="6" fill="#6cace4"/><circle cx="694.9" cy="410.6" r="6" fill="#6cace4"/><circle cx="708.3" cy="406.4" r="6" fill="#6cace4"/><circle cx="721.7" cy="410.6" r="6" fill="#6cace4"/><circle cx="735.1" cy="407.7" r="6" fill="#6cace4"/><circle cx="748.5" cy="408.4" r="6" fill="#6cace4"/><circle cx="761.9" cy="408.0" r="6" fill="#6cace4"/><circle cx="775.3" cy="403.9" r="6" fill="#6cace4"/><circle cx="788.7" cy="409.8" r="6" fill="#6cace4"/><circle cx="802.1" cy="408.9" r="6" fill="#6cace4"/><circle cx="815.5" cy="404.4" r="6" fill="#6cace4"/><circle cx="828.9" cy="405.6" r="6" fill="#6cace4"/><circle cx="842.3" cy="408.0" r="6" fill="#6cace4"/><circle cx="855.7" cy="403.4" r="6" fill="#6cace4"/><circle cx="869.1" cy="407.2" r="6" fill="#6cace4"/><circle cx="882.5" cy="405.6" r="6" fill="#6cace4"/><circle cx="895.9" cy="403.9" r="6" fill="#6cace4"/><circle cx="909.3" cy="401.3" r="6" fill="#6cace4"/><circle cx="922.7" cy="403.5" r="6" fill="#6cace4"/><circle cx="936.1" cy="401.0" r="6" fill="#6cace4"/><circle cx="949.5" cy="401.0" r="6" fill="#6cace4"/><circle cx="962.8" cy="398.0" r="6" fill="#6cace4"/><circle cx="976.2" cy="384.5" r="6" fill="#6cace4"/><circle cx="989.6" cy="381.6" r="6" fill="#6cace4"/><circle cx="1003.0" cy="389.6" r="6" fill="#6cace4"/><circle cx="1016.4" cy="389.2" r="6" fill="#6cace4"/><circle cx="1029.8" cy="395.0" r="6" fill="#6cace4"/><circle cx="1043.2" cy="398.0" r="6" fill="#6cace4"/><circle cx="1056.6" cy="395.5" r="6" fill="#6cace4"/><circle cx="1070.0" cy="404.7" r="6" fill="#6cace4"/><circle cx="1083.4" cy="394.6" r="6" fill="#6cace4"/><circle cx="1096.8" cy="398.0" r="6" fill="#6cace4"/><circle cx="1110.2" cy="407.2" r="6" fill="#6cace4"/><circle cx="1123.6" cy="411.4" r="6" fill="#6cace4"/><circle cx="1137.0" cy="401.9" r="6" fill="#6cace4"/><circle cx="1150.4" cy="387.9" r="6" fill="#6cace4"/><circle cx="1163.8" cy="400.2" r="6" fill="#6cace4"/><circle cx="1177.2" cy="400.5" r="6" fill="#6cace4"/><circle cx="1190.6" cy="400.0" r="6" fill="#6cace4"/><circle cx="1204.0" cy="405.4" r="6" fill="#6cace4"/><circle cx="1217.4" cy="408.4" r="6" fill="#6cace4"/><circle cx="1230.8" cy="409.3" r="6" fill="#6cace4"/><circle cx="1244.2" cy="413.0" r="6" fill="#6cace4"/><circle cx="1257.6" cy="414.0" r="6" fill="#6cace4"/><circle cx="1271.0" cy="416.0" r="6" fill="#6cace4"/><circle cx="1284.4" cy="418.0" r="6" fill="#6cace4"/><circle cx="1297.7" cy="417.0" r="6" fill="#6cace4"/><circle cx="1311.1" cy="416.0" r="6" fill="#6cace4"/><circle cx="1324.5" cy="416.0" r="6" fill="#6cace4"/><circle cx="1337.9" cy="415.0" r="6" fill="#6cace4"/><circle cx="1351.3" cy="415.0" r="6" fill="#6cace4"/><circle cx="1364.7" cy="411.4" r="6" fill="#6cace4"/><circle cx="1378.1" cy="415.0" r="6" fill="#6cace4"/><circle cx="1391.5" cy="413.0" r="6" fill="#6cace4"/>
<rect x="126.3" y="413.8" width="12" height="12" fill="#83e878"/><rect x="166.5" y="413.8" width="12" height="12" fill="#83e878"/><rect x="206.7" y="413.8" width="12" height="12" fill="#83e878"/><rect x="220.1" y="413.8" width="12" height="12" fill="#83e878"/><rect x="313.8" y="413.8" width="12" height="12" fill="#83e878"/><rect x="340.6" y="413.8" width="12" height="12" fill="#83e878"/><rect x="367.4" y="413.8" width="12" height="12" fill="#83e878"/><rect x="380.8" y="413.8" width="12" height="12" fill="#83e878"/><rect x="394.2" y="413.8" width="12" height="12" fill="#83e878"/><rect x="407.6" y="413.8" width="12" height="12" fill="#83e878"/><rect x="447.8" y="413.8" width="12" height="12" fill="#83e878"/><rect x="488.0" y="413.8" width="12" height="12" fill="#83e878"/><rect x="541.6" y="413.8" width="12" height="12" fill="#83e878"/><rect x="595.2" y="413.8" width="12" height="12" fill="#83e878"/><rect x="608.6" y="413.8" width="12" height="12" fill="#83e878"/><rect x="621.9" y="413.8" width="12" height="12" fill="#83e878"/><rect x="635.3" y="413.8" width="12" height="12" fill="#83e878"/><rect x="662.1" y="413.8" width="12" height="12" fill="#83e878"/><rect x="675.5" y="413.8" width="12" height="12" fill="#83e878"/><rect x="688.9" y="413.8" width="12" height="12" fill="#83e878"/><rect x="729.1" y="413.8" width="12" height="12" fill="#83e878"/><rect x="742.5" y="413.8" width="12" height="12" fill="#83e878"/><rect x="782.7" y="413.8" width="12" height="12" fill="#83e878"/><rect x="796.1" y="413.8" width="12" height="12" fill="#83e878"/><rect x="809.5" y="413.8" width="12" height="12" fill="#83e878"/><rect x="822.9" y="413.8" width="12" height="12" fill="#83e878"/><rect x="836.3" y="413.8" width="12" height="12" fill="#83e878"/><rect x="849.7" y="413.8" width="12" height="12" fill="#83e878"/><rect x="863.1" y="413.8" width="12" height="12" fill="#83e878"/><rect x="889.9" y="413.8" width="12" height="12" fill="#83e878"/><rect x="903.3" y="413.8" width="12" height="12" fill="#83e878"/><rect x="916.7" y="413.8" width="12" height="12" fill="#83e878"/><rect x="943.5" y="413.8" width="12" height="12" fill="#83e878"/><rect x="1010.4" y="413.8" width="12" height="12" fill="#83e878"/><rect x="1023.8" y="413.8" width="12" height="12" fill="#83e878"/><rect x="1037.2" y="413.8" width="12" height="12" fill="#83e878"/><rect x="1050.6" y="413.8" width="12" height="12" fill="#83e878"/><rect x="1077.4" y="413.8" width="12" height="12" fill="#83e878"/><rect x="1090.8" y="413.8" width="12" height="12" fill="#83e878"/><rect x="1104.2" y="413.8" width="12" height="12" fill="#83e878"/><rect x="1131.0" y="413.8" width="12" height="12" fill="#83e878"/><rect x="1171.2" y="413.8" width="12" height="12" fill="#83e878"/><rect x="1211.4" y="413.8" width="12" height="12" fill="#83e878"/><rect x="1251.6" y="413.8" width="12" height="12" fill="#83e878"/><rect x="1305.1" y="413.8" width="12" height="12" fill="#83e878"/><rect x="1331.9" y="413.8" width="12" height="12" fill="#83e878"/><rect x="1345.3" y="413.8" width="12" height="12" fill="#83e878"/><rect x="1358.7" y="413.8" width="12" height="12" fill="#83e878"/>
<path d="M145.7 413.8L151.7 425.8L139.7 425.8Z" fill="#f9995a"/><path d="M574.4 413.8L580.4 425.8L568.4 425.8Z" fill="#f9995a"/><path d="M654.7 413.8L660.7 425.8L648.7 425.8Z" fill="#f9995a"/><path d="M694.9 413.8L700.9 425.8L688.9 425.8Z" fill="#f9995a"/><path d="M721.7 413.8L727.7 425.8L715.7 425.8Z" fill="#f9995a"/><path d="M748.5 413.8L754.5 425.8L742.5 425.8Z" fill="#f9995a"/><path d="M761.9 413.8L767.9 425.8L755.9 425.8Z" fill="#f9995a"/><path d="M775.3 413.8L781.3 425.8L769.3 425.8Z" fill="#f9995a"/><path d="M802.1 413.8L808.1 425.8L796.1 425.8Z" fill="#f9995a"/><path d="M882.5 413.8L888.5 425.8L876.5 425.8Z" fill="#f9995a"/><path d="M1177.2 413.8L1183.2 425.8L1171.2 425.8Z" fill="#f9995a"/><path d="M1190.6 413.8L1196.6 425.8L1184.6 425.8Z" fill="#f9995a"/><path d="M1271.0 413.8L1277.0 425.8L1265.0 425.8Z" fill="#f9995a"/>
<path d="M105.5 418.6L118.9 419.2L132.3 418.6L145.7 416.9L159.1 417.9L172.5 416.7L185.9 419.2L199.3 418.3L212.7 417.7L226.1 416.2L239.5 418.6L252.9 415.7L266.3 417.7L279.7 416.4L293.0 416.7L306.4 419.2L319.8 418.6L333.2 418.2L346.6 418.2L360.0 417.8L373.4 417.8L386.8 417.8L400.2 417.3L413.6 418.3L427.0 417.8L440.4 418.3L453.8 415.5L467.2 416.8L480.6 418.1L494.0 416.8L507.4 414.8L520.8 418.3L534.2 418.6L547.6 416.8L561.0 412.8L574.4 419.2L587.8 419.2L601.2 412.4L614.6 407.8L627.9 416.3L641.3 419.2L654.7 412.1L668.1 408.0L681.5 416.3L694.9 409.0L708.3 415.5L721.7 419.2L735.1 415.5L748.5 407.0L761.9 414.6L775.3 415.8L788.7 416.8L802.1 417.1L815.5 418.0L828.9 418.0L842.3 414.6L855.7 419.2L869.1 417.1L882.5 417.1L895.9 417.1L909.3 410.6L922.7 417.6L936.1 419.2L949.5 415.5L962.8 414.6L976.2 419.2L989.6 417.1L1003.0 418.0L1016.4 417.1L1029.8 416.3L1043.2 419.2L1056.6 417.3L1070.0 416.8L1083.4 416.3L1096.8 416.8L1110.2 417.3L1123.6 417.8L1137.0 416.8L1150.4 419.2L1163.8 417.3L1177.2 416.8L1190.6 417.1L1204.0 419.2L1217.4 416.3L1230.8 417.1L1244.2 419.2L1257.6 416.3L1271.0 412.1L1284.4 409.6L1297.7 419.2L1311.1 411.2L1324.5 419.2L1337.9 414.6L1351.3 419.2L1364.7 414.6L1378.1 411.4L1391.5 419.2L1404.9 413.8L1418.3 408.4" fill="none" stroke="#7b7fe8" stroke-width="3" stroke-linejoin="round" stroke-linecap="round"/><path d="M112.9 413.2L124.9 413.2L118.9 425.2Z" fill="#7b7fe8"/><path d="M126.3 412.6L138.3 412.6L132.3 424.6Z" fill="#7b7fe8"/><path d="M139.7 410.9L151.7 410.9L145.7 422.9Z" fill="#7b7fe8"/><path d="M153.1 411.9L165.1 411.9L159.1 423.9Z" fill="#7b7fe8"/><path d="M166.5 410.7L178.5 410.7L172.5 422.7Z" fill="#7b7fe8"/><path d="M179.9 413.2L191.9 413.2L185.9 425.2Z" fill="#7b7fe8"/><path d="M193.3 412.3L205.3 412.3L199.3 424.3Z" fill="#7b7fe8"/><path d="M206.7 411.7L218.7 411.7L212.7 423.7Z" fill="#7b7fe8"/><path d="M220.1 410.2L232.1 410.2L226.1 422.2Z" fill="#7b7fe8"/><path d="M233.5 412.6L245.5 412.6L239.5 424.6Z" fill="#7b7fe8"/><path d="M246.9 409.7L258.9 409.7L252.9 421.7Z" fill="#7b7fe8"/><path d="M260.3 411.7L272.3 411.7L266.3 423.7Z" fill="#7b7fe8"/><path d="M273.7 410.4L285.7 410.4L279.7 422.4Z" fill="#7b7fe8"/><path d="M287.0 410.7L299.0 410.7L293.0 422.7Z" fill="#7b7fe8"/><path d="M300.4 413.2L312.4 413.2L306.4 425.2Z" fill="#7b7fe8"/><path d="M313.8 412.6L325.8 412.6L319.8 424.6Z" fill="#7b7fe8"/><path d="M327.2 412.2L339.2 412.2L333.2 424.2Z" fill="#7b7fe8"/><path d="M340.6 412.2L352.6 412.2L346.6 424.2Z" fill="#7b7fe8"/><path d="M354.0 411.8L366.0 411.8L360.0 423.8Z" fill="#7b7fe8"/><path d="M367.4 411.8L379.4 411.8L373.4 423.8Z" fill="#7b7fe8"/><path d="M380.8 411.8L392.8 411.8L386.8 423.8Z" fill="#7b7fe8"/><path d="M394.2 411.3L406.2 411.3L400.2 423.3Z" fill="#7b7fe8"/><path d="M407.6 412.3L419.6 412.3L413.6 424.3Z" fill="#7b7fe8"/><path d="M421.0 411.8L433.0 411.8L427.0 423.8Z" fill="#7b7fe8"/><path d="M434.4 412.3L446.4 412.3L440.4 424.3Z" fill="#7b7fe8"/><path d="M447.8 409.5L459.8 409.5L453.8 421.5Z" fill="#7b7fe8"/><path d="M461.2 410.8L473.2 410.8L467.2 422.8Z" fill="#7b7fe8"/><path d="M474.6 412.1L486.6 412.1L480.6 424.1Z" fill="#7b7fe8"/><path d="M488.0 410.8L500.0 410.8L494.0 422.8Z" fill="#7b7fe8"/><path d="M501.4 408.8L513.4 408.8L507.4 420.8Z" fill="#7b7fe8"/><path d="M514.8 412.3L526.8 412.3L520.8 424.3Z" fill="#7b7fe8"/><path d="M528.2 412.6L540.2 412.6L534.2 424.6Z" fill="#7b7fe8"/><path d="M541.6 410.8L553.6 410.8L547.6 422.8Z" fill="#7b7fe8"/><path d="M555.0 406.8L567.0 406.8L561.0 418.8Z" fill="#7b7fe8"/><path d="M568.4 413.2L580.4 413.2L574.4 425.2Z" fill="#7b7fe8"/><path d="M581.8 413.2L593.8 413.2L587.8 425.2Z" fill="#7b7fe8"/><path d="M595.2 406.4L607.2 406.4L601.2 418.4Z" fill="#7b7fe8"/><path d="M608.6 401.8L620.6 401.8L614.6 413.8Z" fill="#7b7fe8"/><path d="M621.9 410.3L633.9 410.3L627.9 422.3Z" fill="#7b7fe8"/><path d="M635.3 413.2L647.3 413.2L641.3 425.2Z" fill="#7b7fe8"/><path d="M648.7 406.1L660.7 406.1L654.7 418.1Z" fill="#7b7fe8"/><path d="M662.1 402.0L674.1 402.0L668.1 414.0Z" fill="#7b7fe8"/><path d="M675.5 410.3L687.5 410.3L681.5 422.3Z" fill="#7b7fe8"/><path d="M688.9 403.0L700.9 403.0L694.9 415.0Z" fill="#7b7fe8"/><path d="M702.3 409.5L714.3 409.5L708.3 421.5Z" fill="#7b7fe8"/><path d="M715.7 413.2L727.7 413.2L721.7 425.2Z" fill="#7b7fe8"/><path d="M729.1 409.5L741.1 409.5L735.1 421.5Z" fill="#7b7fe8"/><path d="M742.5 401.0L754.5 401.0L748.5 413.0Z" fill="#7b7fe8"/><path d="M755.9 408.6L767.9 408.6L761.9 420.6Z" fill="#7b7fe8"/><path d="M769.3 409.8L781.3 409.8L775.3 421.8Z" fill="#7b7fe8"/><path d="M782.7 410.8L794.7 410.8L788.7 422.8Z" fill="#7b7fe8"/><path d="M796.1 411.1L808.1 411.1L802.1 423.1Z" fill="#7b7fe8"/><path d="M809.5 412.0L821.5 412.0L815.5 424.0Z" fill="#7b7fe8"/><path d="M822.9 412.0L834.9 412.0L828.9 424.0Z" fill="#7b7fe8"/><path d="M836.3 408.6L848.3 408.6L842.3 420.6Z" fill="#7b7fe8"/><path d="M849.7 413.2L861.7 413.2L855.7 425.2Z" fill="#7b7fe8"/><path d="M863.1 411.1L875.1 411.1L869.1 423.1Z" fill="#7b7fe8"/><path d="M876.5 411.1L888.5 411.1L882.5 423.1Z" fill="#7b7fe8"/><path d="M889.9 411.1L901.9 411.1L895.9 423.1Z" fill="#7b7fe8"/><path d="M903.3 404.6L915.3 404.6L909.3 416.6Z" fill="#7b7fe8"/><path d="M916.7 411.6L928.7 411.6L922.7 423.6Z" fill="#7b7fe8"/><path d="M930.1 413.2L942.1 413.2L936.1 425.2Z" fill="#7b7fe8"/><path d="M943.5 409.5L955.5 409.5L949.5 421.5Z" fill="#7b7fe8"/><path d="M956.8 408.6L968.8 408.6L962.8 420.6Z" fill="#7b7fe8"/><path d="M970.2 413.2L982.2 413.2L976.2 425.2Z" fill="#7b7fe8"/><path d="M983.6 411.1L995.6 411.1L989.6 423.1Z" fill="#7b7fe8"/><path d="M997.0 412.0L1009.0 412.0L1003.0 424.0Z" fill="#7b7fe8"/><path d="M1010.4 411.1L1022.4 411.1L1016.4 423.1Z" fill="#7b7fe8"/><path d="M1023.8 410.3L1035.8 410.3L1029.8 422.3Z" fill="#7b7fe8"/><path d="M1037.2 413.2L1049.2 413.2L1043.2 425.2Z" fill="#7b7fe8"/><path d="M1050.6 411.3L1062.6 411.3L1056.6 423.3Z" fill="#7b7fe8"/><path d="M1064.0 410.8L1076.0 410.8L1070.0 422.8Z" fill="#7b7fe8"/><path d="M1077.4 410.3L1089.4 410.3L1083.4 422.3Z" fill="#7b7fe8"/><path d="M1090.8 410.8L1102.8 410.8L1096.8 422.8Z" fill="#7b7fe8"/><path d="M1104.2 411.3L1116.2 411.3L1110.2 423.3Z" fill="#7b7fe8"/><path d="M1117.6 411.8L1129.6 411.8L1123.6 423.8Z" fill="#7b7fe8"/><path d="M1131.0 410.8L1143.0 410.8L1137.0 422.8Z" fill="#7b7fe8"/><path d="M1144.4 413.2L1156.4 413.2L1150.4 425.2Z" fill="#7b7fe8"/><path d="M1157.8 411.3L1169.8 411.3L1163.8 423.3Z" fill="#7b7fe8"/><path d="M1171.2 410.8L1183.2 410.8L1177.2 422.8Z" fill="#7b7fe8"/><path d="M1184.6 411.1L1196.6 411.1L1190.6 423.1Z" fill="#7b7fe8"/><path d="M1198.0 413.2L1210.0 413.2L1204.0 425.2Z" fill="#7b7fe8"/><path d="M1211.4 410.3L1223.4 410.3L1217.4 422.3Z" fill="#7b7fe8"/><path d="M1224.8 411.1L1236.8 411.1L1230.8 423.1Z" fill="#7b7fe8"/><path d="M1238.2 413.2L1250.2 413.2L1244.2 425.2Z" fill="#7b7fe8"/><path d="M1251.6 410.3L1263.6 410.3L1257.6 422.3Z" fill="#7b7fe8"/><path d="M1265.0 406.1L1277.0 406.1L1271.0 418.1Z" fill="#7b7fe8"/><path d="M1278.4 403.6L1290.4 403.6L1284.4 415.6Z" fill="#7b7fe8"/><path d="M1291.7 413.2L1303.7 413.2L1297.7 425.2Z" fill="#7b7fe8"/><path d="M1305.1 405.2L1317.1 405.2L1311.1 417.2Z" fill="#7b7fe8"/><path d="M1318.5 413.2L1330.5 413.2L1324.5 425.2Z" fill="#7b7fe8"/><path d="M1331.9 408.6L1343.9 408.6L1337.9 420.6Z" fill="#7b7fe8"/><path d="M1345.3 413.2L1357.3 413.2L1351.3 425.2Z" fill="#7b7fe8"/><path d="M1358.7 408.6L1370.7 408.6L1364.7 420.6Z" fill="#7b7fe8"/><path d="M1372.1 405.4L1384.1 405.4L1378.1 417.4Z" fill="#7b7fe8"/><path d="M1385.5 413.2L1397.5 413.2L1391.5 425.2Z" fill="#7b7fe8"/>
<path d="M105.5 418.0L118.9 418.1L132.3 418.9L145.7 417.1L159.1 418.1L172.5 416.9L185.9 417.9L199.3 418.5L212.7 417.9L226.1 416.4L239.5 419.8L252.9 415.9L266.3 417.9L279.7 416.6L293.0 416.9L306.4 417.2L319.8 418.9L333.2 418.4L346.6 418.4L360.0 418.0L373.4 418.0L386.8 418.0L400.2 417.5L413.6 418.5L427.0 418.0L440.4 418.5L453.8 415.7L467.2 417.0L480.6 418.3L494.0 417.0L507.4 415.0L520.8 418.5L534.2 419.0L547.6 417.0L561.0 413.0L574.4 412.3L587.8 412.3L601.2 412.6L614.6 408.0L627.9 416.5L641.3 417.0L654.7 412.3L668.1 414.8L681.5 416.5L694.9 414.8L708.3 415.7L721.7 415.3L735.1 415.7L748.5 417.3L761.9 414.8L775.3 416.0L788.7 417.0L802.1 417.3L815.5 418.2L828.9 418.2L842.3 414.8L855.7 414.8L869.1 417.3L882.5 417.3L895.9 417.3L909.3 417.3L922.7 417.8L936.1 415.7L949.5 415.7L962.8 414.8L976.2 414.8L989.6 417.3L1003.0 418.2L1016.4 417.3L1029.8 416.5L1043.2 417.0L1056.6 417.5L1070.0 417.0L1083.4 416.5L1096.8 417.0L1110.2 417.5L1123.6 418.0L1137.0 417.0L1150.4 415.0L1163.8 417.5L1177.2 417.0L1190.6 417.3L1204.0 414.8L1217.4 416.5L1230.8 417.3L1244.2 414.8L1257.6 416.5L1271.0 412.3L1284.4 409.8L1297.7 408.9L1311.1 411.4L1324.5 411.4L1337.9 414.8L1351.3 409.8L1364.7 414.8L1378.1 416.5L1391.5 416.5L1404.9 414.0L1418.3 411.5" fill="none" stroke="#f0506f" stroke-width="3" stroke-linejoin="round" stroke-linecap="round"/><circle cx="118.9" cy="418.1" r="6" fill="#f0506f"/><circle cx="132.3" cy="418.9" r="6" fill="#f0506f"/><circle cx="145.7" cy="417.1" r="6" fill="#f0506f"/><circle cx="159.1" cy="418.1" r="6" fill="#f0506f"/><circle cx="172.5" cy="416.9" r="6" fill="#f0506f"/><circle cx="185.9" cy="417.9" r="6" fill="#f0506f"/><circle cx="199.3" cy="418.5" r="6" fill="#f0506f"/><circle cx="212.7" cy="417.9" r="6" fill="#f0506f"/><circle cx="226.1" cy="416.4" r="6" fill="#f0506f"/><circle cx="239.5" cy="419.8" r="6" fill="#f0506f"/><circle cx="252.9" cy="415.9" r="6" fill="#f0506f"/><circle cx="266.3" cy="417.9" r="6" fill="#f0506f"/><circle cx="279.7" cy="416.6" r="6" fill="#f0506f"/><circle cx="293.0" cy="416.9" r="6" fill="#f0506f"/><circle cx="306.4" cy="417.2" r="6" fill="#f0506f"/><circle cx="319.8" cy="418.9" r="6" fill="#f0506f"/><circle cx="333.2" cy="418.4" r="6" fill="#f0506f"/><circle cx="346.6" cy="418.4" r="6" fill="#f0506f"/><circle cx="360.0" cy="418.0" r="6" fill="#f0506f"/><circle cx="373.4" cy="418.0" r="6" fill="#f0506f"/><circle cx="386.8" cy="418.0" r="6" fill="#f0506f"/><circle cx="400.2" cy="417.5" r="6" fill="#f0506f"/><circle cx="413.6" cy="418.5" r="6" fill="#f0506f"/><circle cx="427.0" cy="418.0" r="6" fill="#f0506f"/><circle cx="440.4" cy="418.5" r="6" fill="#f0506f"/><circle cx="453.8" cy="415.7" r="6" fill="#f0506f"/><circle cx="467.2" cy="417.0" r="6" fill="#f0506f"/><circle cx="480.6" cy="418.3" r="6" fill="#f0506f"/><circle cx="494.0" cy="417.0" r="6" fill="#f0506f"/><circle cx="507.4" cy="415.0" r="6" fill="#f0506f"/><circle cx="520.8" cy="418.5" r="6" fill="#f0506f"/><circle cx="534.2" cy="419.0" r="6" fill="#f0506f"/><circle cx="547.6" cy="417.0" r="6" fill="#f0506f"/><circle cx="561.0" cy="413.0" r="6" fill="#f0506f"/><circle cx="574.4" cy="412.3" r="6" fill="#f0506f"/><circle cx="587.8" cy="412.3" r="6" fill="#f0506f"/><circle cx="601.2" cy="412.6" r="6" fill="#f0506f"/><circle cx="614.6" cy="408.0" r="6" fill="#f0506f"/><circle cx="627.9" cy="416.5" r="6" fill="#f0506f"/><circle cx="641.3" cy="417.0" r="6" fill="#f0506f"/><circle cx="654.7" cy="412.3" r="6" fill="#f0506f"/><circle cx="668.1" cy="414.8" r="6" fill="#f0506f"/><circle cx="681.5" cy="416.5" r="6" fill="#f0506f"/><circle cx="694.9" cy="414.8" r="6" fill="#f0506f"/><circle cx="708.3" cy="415.7" r="6" fill="#f0506f"/><circle cx="721.7" cy="415.3" r="6" fill="#f0506f"/><circle cx="735.1" cy="415.7" r="6" fill="#f0506f"/><circle cx="748.5" cy="417.3" r="6" fill="#f0506f"/><circle cx="761.9" cy="414.8" r="6" fill="#f0506f"/><circle cx="775.3" cy="416.0" r="6" fill="#f0506f"/><circle cx="788.7" cy="417.0" r="6" fill="#f0506f"/><circle cx="802.1" cy="417.3" r="6" fill="#f0506f"/><circle cx="815.5" cy="418.2" r="6" fill="#f0506f"/><circle cx="828.9" cy="418.2" r="6" fill="#f0506f"/><circle cx="842.3" cy="414.8" r="6" fill="#f0506f"/><circle cx="855.7" cy="414.8" r="6" fill="#f0506f"/><circle cx="869.1" cy="417.3" r="6" fill="#f0506f"/><circle cx="882.5" cy="417.3" r="6" fill="#f0506f"/><circle cx="895.9" cy="417.3" r="6" fill="#f0506f"/><circle cx="909.3" cy="417.3" r="6" fill="#f0506f"/><circle cx="922.7" cy="417.8" r="6" fill="#f0506f"/><circle cx="936.1" cy="415.7" r="6" fill="#f0506f"/><circle cx="949.5" cy="415.7" r="6" fill="#f0506f"/><circle cx="962.8" cy="414.8" r="6" fill="#f0506f"/><circle cx="976.2" cy="414.8" r="6" fill="#f0506f"/><circle cx="989.6" cy="417.3" r="6" fill="#f0506f"/><circle cx="1003.0" cy="418.2" r="6" fill="#f0506f"/><circle cx="1016.4" cy="417.3" r="6" fill="#f0506f"/><circle cx="1029.8" cy="416.5" r="6" fill="#f0506f"/><circle cx="1043.2" cy="417.0" r="6" fill="#f0506f"/><circle cx="1056.6" cy="417.5" r="6" fill="#f0506f"/><circle cx="1070.0" cy="417.0" r="6" fill="#f0506f"/><circle cx="1083.4" cy="416.5" r="6" fill="#f0506f"/><circle cx="1096.8" cy="417.0" r="6" fill="#f0506f"/><circle cx="1110.2" cy="417.5" r="6" fill="#f0506f"/><circle cx="1123.6" cy="418.0" r="6" fill="#f0506f"/><circle cx="1137.0" cy="417.0" r="6" fill="#f0506f"/><circle cx="1150.4" cy="415.0" r="6" fill="#f0506f"/><circle cx="1163.8" cy="417.5" r="6" fill="#f0506f"/><circle cx="1177.2" cy="417.0" r="6" fill="#f0506f"/><circle cx="1190.6" cy="417.3" r="6" fill="#f0506f"/><circle cx="1204.0" cy="414.8" r="6" fill="#f0506f"/><circle cx="1217.4" cy="416.5" r="6" fill="#f0506f"/><circle cx="1230.8" cy="417.3" r="6" fill="#f0506f"/><circle cx="1244.2" cy="414.8" r="6" fill="#f0506f"/><circle cx="1257.6" cy="416.5" r="6" fill="#f0506f"/><circle cx="1271.0" cy="412.3" r="6" fill="#f0506f"/><circle cx="1284.4" cy="409.8" r="6" fill="#f0506f"/><circle cx="1297.7" cy="408.9" r="6" fill="#f0506f"/><circle cx="1311.1" cy="411.4" r="6" fill="#f0506f"/><circle cx="1324.5" cy="411.4" r="6" fill="#f0506f"/><circle cx="1337.9" cy="414.8" r="6" fill="#f0506f"/><circle cx="1351.3" cy="409.8" r="6" fill="#f0506f"/><circle cx="1364.7" cy="414.8" r="6" fill="#f0506f"/><circle cx="1378.1" cy="416.5" r="6" fill="#f0506f"/><circle cx="1391.5" cy="416.5" r="6" fill="#f0506f"/>
</g>
<text x="46.8" y="26.1" font-size="16.5" fill="#666" textLength="38.7" lengthAdjust="spacingAndGlyphs">1250</text>
<text x="46.8" y="107" font-size="16.5" fill="#666" textLength="38.7" lengthAdjust="spacingAndGlyphs">1000</text>
<text x="56.7" y="186.1" font-size="16.5" fill="#666" textLength="28.8" lengthAdjust="spacingAndGlyphs">750</text>
<text x="56.7" y="266.1" font-size="16.5" fill="#666" textLength="28.8" lengthAdjust="spacingAndGlyphs">500</text>
<text x="56.7" y="347.2" font-size="16.5" fill="#666" textLength="28.8" lengthAdjust="spacingAndGlyphs">250</text>
<text x="77" y="426.2" font-size="16.5" fill="#666" textLength="8.5" lengthAdjust="spacingAndGlyphs">0</text>
<text x="240.6" y="449" font-size="16.5" fill="#666" textLength="71.2" lengthAdjust="spacingAndGlyphs">Avr 2022</text>
<text x="413.7" y="449" font-size="16.5" fill="#666" textLength="71.2" lengthAdjust="spacingAndGlyphs">Juil 2022</text>
<text x="590.3" y="449" font-size="16.5" fill="#666" textLength="72.1" lengthAdjust="spacingAndGlyphs">Oct 2022</text>
<text x="765.8" y="449" font-size="16.5" fill="#666" textLength="71" lengthAdjust="spacingAndGlyphs">Jan 2023</text>
<text x="939" y="449" font-size="16.5" fill="#666" textLength="70.7" lengthAdjust="spacingAndGlyphs">Avr 2023</text>
<text x="1111.8" y="449" font-size="16.5" fill="#666" textLength="71.2" lengthAdjust="spacingAndGlyphs">Juil 2023</text>
<text x="1288.5" y="449" font-size="16.5" fill="#666" textLength="71.9" lengthAdjust="spacingAndGlyphs">Oct 2023</text>
<text transform="translate(27.6,320.2) rotate(-90)" font-size="18" fill="#666" textLength="200" lengthAdjust="spacingAndGlyphs">Nombre de diagnostics</text>
<rect x="1185.6" y="35.6" width="204.8" height="45.8" rx="3" ry="3" fill="#f7f7f7" stroke="#ccc" stroke-width="1.5"/>
<text x="1197.2" y="65.1" font-size="18" fill="#333" textLength="177" lengthAdjust="spacingAndGlyphs">Réinitialiser le Zoom</text>
<circle cx="60.8" cy="490.6" r="9" fill="#ccc"/>
<text x="81.5" y="497.5" font-size="18" font-weight="bold" fill="#ccc" textLength="380.5" lengthAdjust="spacingAndGlyphs">Nombre total de diagnostics par semaine</text>
<path d="M495.6 492H519.6" stroke="#3b3b40" stroke-width="3" fill="none"/>
<path d="M507.6 486.0L513.6 492.0L507.6 498.0L501.6 492.0Z" fill="#3b3b40"/>
<text x="528.4" y="498" font-size="18" font-weight="bold" fill="#333" textLength="128.2" lengthAdjust="spacingAndGlyphs">Grippes TDR+</text>
<path d="M943 492H967" stroke="#83e878" stroke-width="3" fill="none"/>
<rect x="949.0" y="486.0" width="12" height="12" fill="#83e878"/>
<text x="975.4" y="498" font-size="18" font-weight="bold" fill="#333" textLength="53.3" lengthAdjust="spacingAndGlyphs">Otites</text>
<path d="M49.1 514.5H73.1" stroke="#f9995a" stroke-width="3" fill="none"/>
<path d="M61.1 508.5L67.1 520.5L55.1 520.5Z" fill="#f9995a"/>
<text x="81.5" y="520.5" font-size="18" font-weight="bold" fill="#333" textLength="119.3" lengthAdjust="spacingAndGlyphs">Bronchiolites</text>
<path d="M495.6 514.5H519.6" stroke="#7b7fe8" stroke-width="3" fill="none"/>
<path d="M501.6 508.5L513.6 508.5L507.6 520.5Z" fill="#7b7fe8"/>
<text x="528.4" y="520.5" font-size="18" font-weight="bold" fill="#333" textLength="110.3" lengthAdjust="spacingAndGlyphs">Pneumonies</text>
<path d="M943 514.5H967" stroke="#f0506f" stroke-width="3" fill="none"/>
<circle cx="955.0" cy="514.5" r="6" fill="#f0506f"/>
<text x="975.4" y="520.5" font-size="18" font-weight="bold" fill="#333" textLength="141" lengthAdjust="spacingAndGlyphs">Gastroentérites</text>
<path d="M49.1 537H73.1" stroke="#e2cb52" stroke-width="3" fill="none"/>
<path d="M61.1 531.0L67.1 537.0L61.1 543.0L55.1 537.0Z" fill="#e2cb52"/>
<text x="81.5" y="543" font-size="18" font-weight="bold" fill="#333" textLength="105" lengthAdjust="spacingAndGlyphs">Entérovirus</text>
<path d="M495.6 537H519.6" stroke="#1d8583" stroke-width="3" fill="none"/>
<rect x="501.6" y="531.0" width="12" height="12" fill="#1d8583"/>
<text x="528.4" y="543" font-size="18" font-weight="bold" fill="#333" textLength="223.8" lengthAdjust="spacingAndGlyphs">Pathologies à SGA TDR+</text>
<path d="M943 537H967" stroke="#f54f52" stroke-width="3" fill="none"/>
<path d="M955.0 531.0L961.0 543.0L949.0 543.0Z" fill="#f54f52"/>
<text x="975.4" y="543" font-size="18" font-weight="bold" fill="#333" textLength="173.2" lengthAdjust="spacingAndGlyphs">Covid-19 confirmé</text>
<path d="M49.1 559.5H73.1" stroke="#82e0da" stroke-width="3" fill="none"/>
<path d="M55.1 553.5L67.1 553.5L61.1 565.5Z" fill="#82e0da"/>
<text x="81.5" y="565.5" font-size="18" font-weight="bold" fill="#333" textLength="178.8" lengthAdjust="spacingAndGlyphs">Infections urinaires</text>
<path d="M495.6 559.5H519.6" stroke="#6cace4" stroke-width="3" fill="none"/>
<circle cx="507.6" cy="559.5" r="6" fill="#6cace4"/>
<text x="528.4" y="565.5" font-size="18" font-weight="bold" fill="#333" textLength="87.2" lengthAdjust="spacingAndGlyphs">Varicelles</text>
<path d="M943 559.5H967" stroke="#3b3b40" stroke-width="3" fill="none"/>
<path d="M955.0 553.5L961.0 559.5L955.0 565.5L949.0 559.5Z" fill="#3b3b40"/>
<text x="975.4" y="565.5" font-size="18" font-weight="bold" fill="#333" textLength="93.9" lengthAdjust="spacingAndGlyphs">Rougeoles</text>
<path d="M49.1 582H73.1" stroke="#83e878" stroke-width="3" fill="none"/>
<rect x="55.1" y="576.0" width="12" height="12" fill="#83e878"/>
<text x="81.5" y="588" font-size="18" font-weight="bold" fill="#333" textLength="141" lengthAdjust="spacingAndGlyphs">Mononucléoses</text>
<path d="M495.6 582H519.6" stroke="#f9995a" stroke-width="3" fill="none"/>
<path d="M507.6 576.0L513.6 588.0L501.6 588.0Z" fill="#f9995a"/>
<text x="528.4" y="588" font-size="18" font-weight="bold" fill="#333" textLength="116" lengthAdjust="spacingAndGlyphs">Coqueluches</text>
<path d="M943 582H967" stroke="#7b7fe8" stroke-width="3" fill="none"/>
<path d="M949.0 576.0L961.0 576.0L955.0 588.0Z" fill="#7b7fe8"/>
<text x="975.4" y="588" font-size="18" font-weight="bold" fill="#333" textLength="341.4" lengthAdjust="spacingAndGlyphs">Maladie de Lyme / Erythème migrant</text>
<path d="M49.1 604.3H73.1" stroke="#f0506f" stroke-width="3" fill="none"/>
<circle cx="61.1" cy="604.3" r="6" fill="#f0506f"/>
<text x="81.5" y="610.3" font-size="18" font-weight="bold" fill="#333" textLength="80.7" lengthAdjust="spacingAndGlyphs">Impetigo</text>
</svg>
</body></html>
